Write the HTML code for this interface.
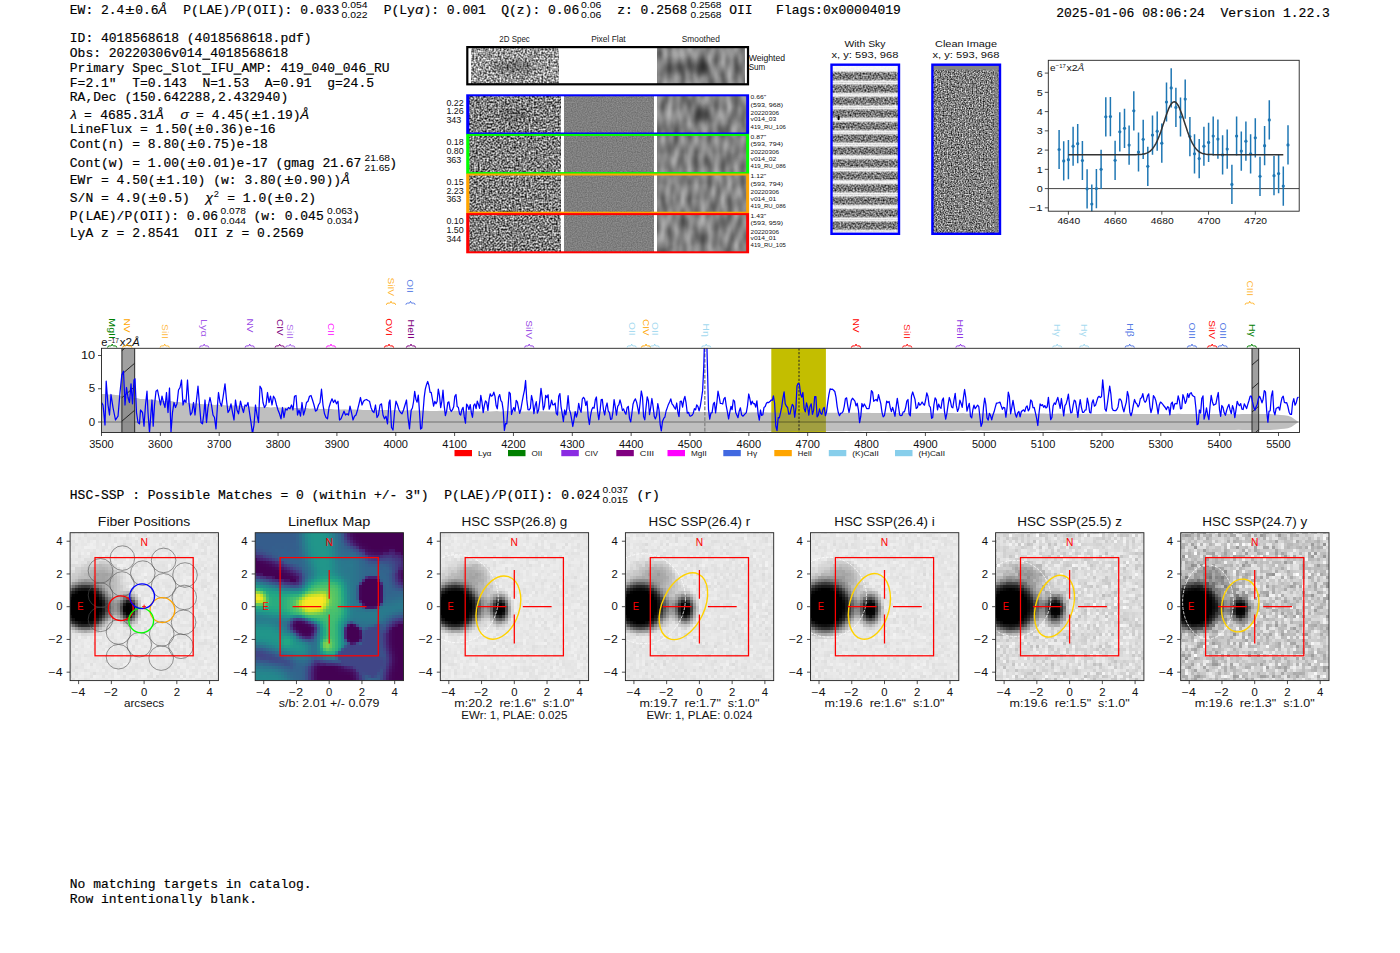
<!DOCTYPE html>
<html><head><meta charset="utf-8"><title>report</title>
<style>html,body{margin:0;padding:0;background:#fff}svg{display:block}text{font-family:"Liberation Sans",sans-serif}.m{font-family:"Liberation Mono",monospace;font-size:13.1px;fill:#000;stroke:#000;stroke-width:0.18px}.i{font-style:italic}</style></head><body>
<svg width="1400" height="953" viewBox="0 0 1400 953">
<rect x="0" y="0" width="1400" height="953" fill="#fff"/>
<defs><filter id="nHi" x="0" y="0" width="1" height="1" color-interpolation-filters="sRGB"><feTurbulence type="fractalNoise" baseFrequency="0.55 0.55" numOctaves="1" seed="3" stitchTiles="noStitch"/><feColorMatrix type="matrix" values="1.65 0 0 0 -0.225 1.65 0 0 0 -0.225 1.65 0 0 0 -0.225 0 0 0 0 1"/><feGaussianBlur stdDeviation="0.25"/></filter><filter id="nHi2" x="0" y="0" width="1" height="1" color-interpolation-filters="sRGB"><feTurbulence type="fractalNoise" baseFrequency="0.55 0.55" numOctaves="1" seed="11" stitchTiles="noStitch"/><feColorMatrix type="matrix" values="1.65 0 0 0 -0.325 1.65 0 0 0 -0.325 1.65 0 0 0 -0.325 0 0 0 0 1"/><feGaussianBlur stdDeviation="0.25"/></filter><filter id="nSm" x="0" y="0" width="1" height="1" color-interpolation-filters="sRGB"><feTurbulence type="fractalNoise" baseFrequency="0.15 0.065" numOctaves="1" seed="7" stitchTiles="noStitch"/><feColorMatrix type="matrix" values="0.62 0 0 0 0.200 0.62 0 0 0 0.200 0.62 0 0 0 0.200 0 0 0 0 1"/></filter><filter id="nFlat" x="0" y="0" width="1" height="1" color-interpolation-filters="sRGB"><feTurbulence type="fractalNoise" baseFrequency="0.8 0.8" numOctaves="1" seed="5" stitchTiles="noStitch"/><feColorMatrix type="matrix" values="0.25 0 0 0 0.372 0.25 0 0 0 0.372 0.25 0 0 0 0.372 0 0 0 0 1"/></filter><filter id="nSky" x="0" y="0" width="1" height="1" color-interpolation-filters="sRGB"><feTurbulence type="fractalNoise" baseFrequency="0.6 0.6" numOctaves="1" seed="21" stitchTiles="noStitch"/><feColorMatrix type="matrix" values="1.25 0 0 0 -0.175 1.25 0 0 0 -0.175 1.25 0 0 0 -0.175 0 0 0 0 1"/><feGaussianBlur stdDeviation="0.3"/></filter><filter id="nClean" x="0" y="0" width="1" height="1" color-interpolation-filters="sRGB"><feTurbulence type="fractalNoise" baseFrequency="0.72 0.72" numOctaves="1" seed="33" stitchTiles="noStitch"/><feColorMatrix type="matrix" values="1.5 0 0 0 -0.250 1.5 0 0 0 -0.250 1.5 0 0 0 -0.250 0 0 0 0 1"/><feGaussianBlur stdDeviation="0.25"/></filter><filter id="b3" x="-0.5" y="-0.5" width="2" height="2"><feGaussianBlur stdDeviation="3"/></filter><linearGradient id="stripe" x1="0" y1="0" x2="0" y2="1"><stop offset="0" stop-color="#fff" stop-opacity="0.95"/><stop offset="0.09" stop-color="#fff" stop-opacity="0.88"/><stop offset="0.19" stop-color="#fff" stop-opacity="0.35"/><stop offset="0.28" stop-color="#fff" stop-opacity="0.04"/><stop offset="0.72" stop-color="#fff" stop-opacity="0.04"/><stop offset="0.81" stop-color="#fff" stop-opacity="0.35"/><stop offset="0.91" stop-color="#fff" stop-opacity="0.88"/><stop offset="1" stop-color="#fff" stop-opacity="0.95"/></linearGradient><clipPath id="skyclip"><rect x="830.3" y="63.5" width="69.9" height="171.5"/></clipPath><clipPath id="fitclip"><rect x="1048.3" y="60.3" width="250.9" height="150.9"/></clipPath><clipPath id="spclip"><rect x="101.5" y="348.3" width="1198.0" height="84.2"/></clipPath><radialGradient id="gBig"><stop offset="0" stop-color="#000" stop-opacity="1"/><stop offset="0.52" stop-color="#000" stop-opacity="1"/><stop offset="0.66" stop-color="#000" stop-opacity="0.78"/><stop offset="0.8" stop-color="#000" stop-opacity="0.32"/><stop offset="0.92" stop-color="#000" stop-opacity="0.08"/><stop offset="1" stop-color="#000" stop-opacity="0"/></radialGradient><radialGradient id="gSm"><stop offset="0" stop-color="#000" stop-opacity="1"/><stop offset="0.3" stop-color="#000" stop-opacity="0.97"/><stop offset="0.5" stop-color="#000" stop-opacity="0.6"/><stop offset="0.7" stop-color="#000" stop-opacity="0.24"/><stop offset="0.87" stop-color="#000" stop-opacity="0.07"/><stop offset="1" stop-color="#000" stop-opacity="0"/></radialGradient><radialGradient id="gHaze"><stop offset="0" stop-color="#000" stop-opacity="0.3"/><stop offset="0.6" stop-color="#000" stop-opacity="0.18"/><stop offset="1" stop-color="#000" stop-opacity="0"/></radialGradient><filter id="nBg1" x="0" y="0" width="1" height="1" color-interpolation-filters="sRGB"><feTurbulence type="fractalNoise" baseFrequency="0.33 0.33" numOctaves="1" seed="41" stitchTiles="noStitch"/><feColorMatrix type="matrix" values="0.22 0 0 0 0.795 0.22 0 0 0 0.795 0.22 0 0 0 0.795 0 0 0 0 1"/></filter><filter id="nBg2" x="0" y="0" width="1" height="1" color-interpolation-filters="sRGB"><feTurbulence type="fractalNoise" baseFrequency="0.36 0.36" numOctaves="2" seed="42" stitchTiles="noStitch"/><feColorMatrix type="matrix" values="0.36 0 0 0 0.685 0.36 0 0 0 0.685 0.36 0 0 0 0.685 0 0 0 0 1"/></filter><filter id="nBg3" x="0" y="0" width="1" height="1" color-interpolation-filters="sRGB"><feTurbulence type="fractalNoise" baseFrequency="0.36 0.36" numOctaves="2" seed="43" stitchTiles="noStitch"/><feColorMatrix type="matrix" values="0.66 0 0 0 0.460 0.66 0 0 0 0.460 0.66 0 0 0 0.460 0 0 0 0 1"/></filter><clipPath id="pclipF"><rect x="70.1" y="532.7" width="148.3" height="147.9"/></clipPath><filter id="mzF" filterUnits="userSpaceOnUse" x="69" y="531" width="153" height="153" color-interpolation-filters="sRGB"><feTurbulence type="fractalNoise" baseFrequency="0.9" numOctaves="1" seed="39" result="t"/><feColorMatrix in="t" type="matrix" values="1 0 0 0 0 1 0 0 0 0 1 0 0 0 0 0 0 0 0 1" result="nz"/><feComposite in="SourceGraphic" in2="nz" operator="arithmetic" k1="0.16" k2="0.920" k3="0" k4="0" result="img"/><feFlood x="69" y="531" width="1" height="1" flood-color="#fff" result="px"/><feComposite in="px" in2="px" operator="over" x="69" y="531" width="3" height="3" result="cell"/><feTile in="cell" result="grid"/><feComposite in="img" in2="grid" operator="in" result="smp"/><feConvolveMatrix in="smp" order="3" kernelMatrix="1 1 1 1 1 1 1 1 1" divisor="1" targetX="2" targetY="2" preserveAlpha="false" edgeMode="none"/></filter><clipPath id="pclipL"><rect x="255.2" y="532.7" width="148.3" height="147.9"/></clipPath><filter id="lfb" x="-0.3" y="-0.3" width="1.6" height="1.6"><feGaussianBlur stdDeviation="30"/></filter><filter id="lfb2" x="-0.3" y="-0.3" width="1.6" height="1.6"><feGaussianBlur stdDeviation="7"/></filter><filter id="lfb3" x="-0.3" y="-0.3" width="1.6" height="1.6"><feGaussianBlur stdDeviation="16"/></filter><filter id="viridis" x="0" y="0" width="1" height="1" color-interpolation-filters="sRGB"><feComponentTransfer><feFuncR type="table" tableValues="0.267 0.282 0.255 0.208 0.165 0.129 0.133 0.267 0.478 0.741 0.992"/><feFuncG type="table" tableValues="0.004 0.141 0.267 0.373 0.471 0.569 0.659 0.749 0.820 0.875 0.906"/><feFuncB type="table" tableValues="0.329 0.459 0.529 0.553 0.557 0.549 0.518 0.439 0.318 0.149 0.145"/></feComponentTransfer></filter><filter id="mzL" filterUnits="userSpaceOnUse" x="254" y="531" width="153" height="153" color-interpolation-filters="sRGB"><feTurbulence type="fractalNoise" baseFrequency="0.9" numOctaves="1" seed="50" result="t"/><feColorMatrix in="t" type="matrix" values="1 0 0 0 0 1 0 0 0 0 1 0 0 0 0 0 0 0 0 1" result="nz"/><feComposite in="SourceGraphic" in2="nz" operator="arithmetic" k1="0.0" k2="1.000" k3="0" k4="0" result="img"/><feFlood x="254" y="531" width="1" height="1" flood-color="#fff" result="px"/><feComposite in="px" in2="px" operator="over" x="254" y="531" width="3" height="3" result="cell"/><feTile in="cell" result="grid"/><feComposite in="img" in2="grid" operator="in" result="smp"/><feConvolveMatrix in="smp" order="3" kernelMatrix="1 1 1 1 1 1 1 1 1" divisor="1" targetX="2" targetY="2" preserveAlpha="false" edgeMode="none"/></filter><clipPath id="pclip2"><rect x="440.3" y="532.7" width="148.3" height="147.9"/></clipPath><filter id="mz2" filterUnits="userSpaceOnUse" x="439" y="531" width="153" height="153" color-interpolation-filters="sRGB"><feTurbulence type="fractalNoise" baseFrequency="0.9" numOctaves="1" seed="42" result="t"/><feColorMatrix in="t" type="matrix" values="1 0 0 0 0 1 0 0 0 0 1 0 0 0 0 0 0 0 0 1" result="nz"/><feComposite in="SourceGraphic" in2="nz" operator="arithmetic" k1="0.16" k2="0.920" k3="0" k4="0" result="img"/><feFlood x="439" y="531" width="1" height="1" flood-color="#fff" result="px"/><feComposite in="px" in2="px" operator="over" x="439" y="531" width="3" height="3" result="cell"/><feTile in="cell" result="grid"/><feComposite in="img" in2="grid" operator="in" result="smp"/><feConvolveMatrix in="smp" order="3" kernelMatrix="1 1 1 1 1 1 1 1 1" divisor="1" targetX="2" targetY="2" preserveAlpha="false" edgeMode="none"/></filter><clipPath id="pclip3"><rect x="625.4" y="532.7" width="148.3" height="147.9"/></clipPath><filter id="mz3" filterUnits="userSpaceOnUse" x="624" y="531" width="153" height="153" color-interpolation-filters="sRGB"><feTurbulence type="fractalNoise" baseFrequency="0.9" numOctaves="1" seed="43" result="t"/><feColorMatrix in="t" type="matrix" values="1 0 0 0 0 1 0 0 0 0 1 0 0 0 0 0 0 0 0 1" result="nz"/><feComposite in="SourceGraphic" in2="nz" operator="arithmetic" k1="0.18" k2="0.910" k3="0" k4="0" result="img"/><feFlood x="624" y="531" width="1" height="1" flood-color="#fff" result="px"/><feComposite in="px" in2="px" operator="over" x="624" y="531" width="3" height="3" result="cell"/><feTile in="cell" result="grid"/><feComposite in="img" in2="grid" operator="in" result="smp"/><feConvolveMatrix in="smp" order="3" kernelMatrix="1 1 1 1 1 1 1 1 1" divisor="1" targetX="2" targetY="2" preserveAlpha="false" edgeMode="none"/></filter><clipPath id="pclip4"><rect x="810.5" y="532.7" width="148.3" height="147.9"/></clipPath><filter id="mz4" filterUnits="userSpaceOnUse" x="809" y="531" width="153" height="153" color-interpolation-filters="sRGB"><feTurbulence type="fractalNoise" baseFrequency="0.9" numOctaves="1" seed="44" result="t"/><feColorMatrix in="t" type="matrix" values="1 0 0 0 0 1 0 0 0 0 1 0 0 0 0 0 0 0 0 1" result="nz"/><feComposite in="SourceGraphic" in2="nz" operator="arithmetic" k1="0.18" k2="0.910" k3="0" k4="0" result="img"/><feFlood x="809" y="531" width="1" height="1" flood-color="#fff" result="px"/><feComposite in="px" in2="px" operator="over" x="809" y="531" width="3" height="3" result="cell"/><feTile in="cell" result="grid"/><feComposite in="img" in2="grid" operator="in" result="smp"/><feConvolveMatrix in="smp" order="3" kernelMatrix="1 1 1 1 1 1 1 1 1" divisor="1" targetX="2" targetY="2" preserveAlpha="false" edgeMode="none"/></filter><clipPath id="pclip5"><rect x="995.6" y="532.7" width="148.3" height="147.9"/></clipPath><filter id="mz5" filterUnits="userSpaceOnUse" x="994" y="531" width="153" height="153" color-interpolation-filters="sRGB"><feTurbulence type="fractalNoise" baseFrequency="0.9" numOctaves="1" seed="45" result="t"/><feColorMatrix in="t" type="matrix" values="1 0 0 0 0 1 0 0 0 0 1 0 0 0 0 0 0 0 0 1" result="nz"/><feComposite in="SourceGraphic" in2="nz" operator="arithmetic" k1="0.5" k2="0.750" k3="0" k4="0" result="img"/><feFlood x="994" y="531" width="1" height="1" flood-color="#fff" result="px"/><feComposite in="px" in2="px" operator="over" x="994" y="531" width="3" height="3" result="cell"/><feTile in="cell" result="grid"/><feComposite in="img" in2="grid" operator="in" result="smp"/><feConvolveMatrix in="smp" order="3" kernelMatrix="1 1 1 1 1 1 1 1 1" divisor="1" targetX="2" targetY="2" preserveAlpha="false" edgeMode="none"/></filter><clipPath id="pclip6"><rect x="1180.7" y="532.7" width="148.3" height="147.9"/></clipPath><filter id="mz6" filterUnits="userSpaceOnUse" x="1179" y="531" width="153" height="153" color-interpolation-filters="sRGB"><feTurbulence type="fractalNoise" baseFrequency="0.9" numOctaves="1" seed="46" result="t"/><feColorMatrix in="t" type="matrix" values="1 0 0 0 0 1 0 0 0 0 1 0 0 0 0 0 0 0 0 1" result="nz"/><feComposite in="SourceGraphic" in2="nz" operator="arithmetic" k1="0.95" k2="0.525" k3="0" k4="0" result="img"/><feFlood x="1179" y="531" width="1" height="1" flood-color="#fff" result="px"/><feComposite in="px" in2="px" operator="over" x="1179" y="531" width="3" height="3" result="cell"/><feTile in="cell" result="grid"/><feComposite in="img" in2="grid" operator="in" result="smp"/><feConvolveMatrix in="smp" order="3" kernelMatrix="1 1 1 1 1 1 1 1 1" divisor="1" targetX="2" targetY="2" preserveAlpha="false" edgeMode="none"/></filter></defs>
<text x="69.80" y="13.80" class="m" textLength="54.60" lengthAdjust="spacingAndGlyphs" xml:space="preserve">EW: 2.4</text>
<text x="125.40" y="13.80" class="m" style="font-family:'Liberation Sans',sans-serif" textLength="8.8" lengthAdjust="spacingAndGlyphs">±</text>
<text x="135.20" y="13.80" class="m" textLength="23.40" lengthAdjust="spacingAndGlyphs" xml:space="preserve">0.6</text>
<text x="158.20" y="13.80" class="m i" style="font-family:'Liberation Sans',sans-serif;font-size:13.4px" textLength="8.6" lengthAdjust="spacingAndGlyphs">Å</text>
<text x="183.20" y="13.80" class="m" textLength="156.00" lengthAdjust="spacingAndGlyphs" xml:space="preserve">P(LAE)/P(OII): 0.033</text>
<text x="341.50" y="8.30" font-size="9.0" text-anchor="start" fill="#000" textLength="26.00" lengthAdjust="spacingAndGlyphs"  xml:space="preserve">0.054</text>
<text x="341.50" y="17.60" font-size="9.0" text-anchor="start" fill="#000" textLength="26.00" lengthAdjust="spacingAndGlyphs"  xml:space="preserve">0.022</text>
<text x="383.70" y="13.80" class="m" textLength="31.20" lengthAdjust="spacingAndGlyphs" xml:space="preserve">P(Ly</text>
<text x="415.20" y="13.80" class="m i" style="font-family:'Liberation Sans',sans-serif;font-size:13.4px" textLength="8.0" lengthAdjust="spacingAndGlyphs">α</text>
<text x="423.40" y="13.80" class="m" textLength="62.40" lengthAdjust="spacingAndGlyphs" xml:space="preserve">): 0.001</text>
<text x="501.20" y="13.80" class="m" textLength="78.00" lengthAdjust="spacingAndGlyphs" xml:space="preserve">Q(z): 0.06</text>
<text x="581.00" y="8.30" font-size="9.0" text-anchor="start" fill="#000" textLength="20.30" lengthAdjust="spacingAndGlyphs"  xml:space="preserve">0.06</text>
<text x="581.00" y="17.60" font-size="9.0" text-anchor="start" fill="#000" textLength="20.30" lengthAdjust="spacingAndGlyphs"  xml:space="preserve">0.06</text>
<text x="617.20" y="13.80" class="m" textLength="70.20" lengthAdjust="spacingAndGlyphs" xml:space="preserve">z: 0.2568</text>
<text x="690.50" y="8.30" font-size="9.0" text-anchor="start" fill="#000" textLength="31.00" lengthAdjust="spacingAndGlyphs"  xml:space="preserve">0.2568</text>
<text x="690.50" y="17.60" font-size="9.0" text-anchor="start" fill="#000" textLength="31.00" lengthAdjust="spacingAndGlyphs"  xml:space="preserve">0.2568</text>
<text x="729.20" y="13.80" class="m" textLength="23.40" lengthAdjust="spacingAndGlyphs" xml:space="preserve">OII</text>
<text x="776.10" y="13.80" class="m" textLength="124.80" lengthAdjust="spacingAndGlyphs" xml:space="preserve">Flags:0x00004019</text>
<text x="1056.20" y="16.60" class="m" textLength="273.70" lengthAdjust="spacingAndGlyphs" xml:space="preserve">2025-01-06 08:06:24  Version 1.22.3</text>
<text x="69.80" y="42.30" class="m" textLength="241.80" lengthAdjust="spacingAndGlyphs" xml:space="preserve">ID: 4018568618 (4018568618.pdf)</text>
<rect x="202.30" y="58.65" width="8.00" height="1.15" fill="#000"/>
<text x="69.80" y="56.90" class="m" textLength="218.40" lengthAdjust="spacingAndGlyphs" xml:space="preserve">Obs: 20220306v014 4018568618</text>
<rect x="163.30" y="73.55" width="8.00" height="1.15" fill="#000"/>
<rect x="202.30" y="73.55" width="8.00" height="1.15" fill="#000"/>
<rect x="233.50" y="73.55" width="8.00" height="1.15" fill="#000"/>
<rect x="303.70" y="73.55" width="8.00" height="1.15" fill="#000"/>
<rect x="334.90" y="73.55" width="8.00" height="1.15" fill="#000"/>
<rect x="366.10" y="73.55" width="8.00" height="1.15" fill="#000"/>
<text x="69.80" y="71.80" class="m" textLength="319.80" lengthAdjust="spacingAndGlyphs" xml:space="preserve">Primary Spec Slot IFU AMP: 419 040 046 RU</text>
<text x="69.80" y="86.70" class="m" textLength="304.20" lengthAdjust="spacingAndGlyphs" xml:space="preserve">F=2.1"  T=0.143  N=1.53  A=0.91  g=24.5</text>
<text x="69.80" y="101.30" class="m" textLength="218.40" lengthAdjust="spacingAndGlyphs" xml:space="preserve">RA,Dec (150.642288,2.432940)</text>
<text x="70.40" y="118.60" class="m i" style="font-family:'Liberation Sans',sans-serif;font-size:13.4px" textLength="6.2" lengthAdjust="spacingAndGlyphs">λ</text>
<text x="84.10" y="118.60" class="m" textLength="7.80" lengthAdjust="spacingAndGlyphs" xml:space="preserve">=</text>
<text x="100.20" y="118.60" class="m" textLength="54.60" lengthAdjust="spacingAndGlyphs" xml:space="preserve">4685.31</text>
<text x="154.90" y="118.60" class="m i" style="font-family:'Liberation Sans',sans-serif;font-size:13.4px" textLength="8.8" lengthAdjust="spacingAndGlyphs">Å</text>
<text x="180.50" y="118.60" class="m i" style="font-family:'Liberation Sans',sans-serif;font-size:13.4px" textLength="8.3" lengthAdjust="spacingAndGlyphs">σ</text>
<text x="196.00" y="118.60" class="m" textLength="7.80" lengthAdjust="spacingAndGlyphs" xml:space="preserve">=</text>
<text x="211.80" y="118.60" class="m" textLength="39.00" lengthAdjust="spacingAndGlyphs" xml:space="preserve">4.45(</text>
<text x="251.80" y="118.60" class="m" style="font-family:'Liberation Sans',sans-serif" textLength="8.8" lengthAdjust="spacingAndGlyphs">±</text>
<text x="261.60" y="118.60" class="m" textLength="39.00" lengthAdjust="spacingAndGlyphs" xml:space="preserve">1.19)</text>
<text x="300.20" y="118.60" class="m i" style="font-family:'Liberation Sans',sans-serif;font-size:13.4px" textLength="8.8" lengthAdjust="spacingAndGlyphs">Å</text>
<text x="69.80" y="133.10" class="m" textLength="124.80" lengthAdjust="spacingAndGlyphs" xml:space="preserve">LineFlux = 1.50(</text>
<text x="195.60" y="133.10" class="m" style="font-family:'Liberation Sans',sans-serif" textLength="8.8" lengthAdjust="spacingAndGlyphs">±</text>
<text x="205.40" y="133.10" class="m" textLength="70.20" lengthAdjust="spacingAndGlyphs" xml:space="preserve">0.36)e-16</text>
<text x="69.80" y="148.00" class="m" textLength="117.00" lengthAdjust="spacingAndGlyphs" xml:space="preserve">Cont(n) = 8.80(</text>
<text x="187.80" y="148.00" class="m" style="font-family:'Liberation Sans',sans-serif" textLength="8.8" lengthAdjust="spacingAndGlyphs">±</text>
<text x="197.60" y="148.00" class="m" textLength="70.20" lengthAdjust="spacingAndGlyphs" xml:space="preserve">0.75)e-18</text>
<text x="69.80" y="166.60" class="m" textLength="117.00" lengthAdjust="spacingAndGlyphs" xml:space="preserve">Cont(w) = 1.00(</text>
<text x="187.80" y="166.60" class="m" style="font-family:'Liberation Sans',sans-serif" textLength="8.8" lengthAdjust="spacingAndGlyphs">±</text>
<text x="197.60" y="166.60" class="m" textLength="163.80" lengthAdjust="spacingAndGlyphs" xml:space="preserve">0.01)e-17 (gmag 21.67</text>
<text x="364.50" y="161.30" font-size="9.0" text-anchor="start" fill="#000" textLength="25.50" lengthAdjust="spacingAndGlyphs"  xml:space="preserve">21.68</text>
<text x="364.50" y="170.60" font-size="9.0" text-anchor="start" fill="#000" textLength="25.50" lengthAdjust="spacingAndGlyphs"  xml:space="preserve">21.65</text>
<text x="389.20" y="166.60" class="m" textLength="7.80" lengthAdjust="spacingAndGlyphs" xml:space="preserve">)</text>
<text x="69.80" y="184.10" class="m" textLength="85.80" lengthAdjust="spacingAndGlyphs" xml:space="preserve">EWr = 4.50(</text>
<text x="156.60" y="184.10" class="m" style="font-family:'Liberation Sans',sans-serif" textLength="8.8" lengthAdjust="spacingAndGlyphs">±</text>
<text x="166.40" y="184.10" class="m" textLength="117.00" lengthAdjust="spacingAndGlyphs" xml:space="preserve">1.10) (w: 3.80(</text>
<text x="284.40" y="184.10" class="m" style="font-family:'Liberation Sans',sans-serif" textLength="8.8" lengthAdjust="spacingAndGlyphs">±</text>
<text x="294.20" y="184.10" class="m" textLength="46.80" lengthAdjust="spacingAndGlyphs" xml:space="preserve">0.90))</text>
<text x="341.20" y="184.10" class="m i" style="font-family:'Liberation Sans',sans-serif;font-size:13.4px" textLength="8.6" lengthAdjust="spacingAndGlyphs">Å</text>
<text x="69.80" y="202.00" class="m" textLength="78.00" lengthAdjust="spacingAndGlyphs" xml:space="preserve">S/N = 4.9(</text>
<text x="148.80" y="202.00" class="m" style="font-family:'Liberation Sans',sans-serif" textLength="8.8" lengthAdjust="spacingAndGlyphs">±</text>
<text x="158.60" y="202.00" class="m" textLength="31.20" lengthAdjust="spacingAndGlyphs" xml:space="preserve">0.5)</text>
<text x="205.50" y="202.00" class="m i" style="font-family:'Liberation Sans',sans-serif;font-size:13.4px" textLength="7.5" lengthAdjust="spacingAndGlyphs">χ</text>
<text x="213.80" y="197.00" font-size="9.0" text-anchor="start" fill="#000" textLength="5.20" lengthAdjust="spacingAndGlyphs"  xml:space="preserve">2</text>
<text x="227.20" y="202.00" class="m" textLength="46.80" lengthAdjust="spacingAndGlyphs" xml:space="preserve">= 1.0(</text>
<text x="275.00" y="202.00" class="m" style="font-family:'Liberation Sans',sans-serif" textLength="8.8" lengthAdjust="spacingAndGlyphs">±</text>
<text x="284.80" y="202.00" class="m" textLength="31.20" lengthAdjust="spacingAndGlyphs" xml:space="preserve">0.2)</text>
<text x="69.80" y="219.60" class="m" textLength="148.20" lengthAdjust="spacingAndGlyphs" xml:space="preserve">P(LAE)/P(OII): 0.06</text>
<text x="220.50" y="214.30" font-size="9.0" text-anchor="start" fill="#000" textLength="25.50" lengthAdjust="spacingAndGlyphs"  xml:space="preserve">0.078</text>
<text x="220.50" y="223.60" font-size="9.0" text-anchor="start" fill="#000" textLength="25.50" lengthAdjust="spacingAndGlyphs"  xml:space="preserve">0.044</text>
<text x="253.50" y="219.60" class="m" textLength="70.20" lengthAdjust="spacingAndGlyphs" xml:space="preserve">(w: 0.045</text>
<text x="327.00" y="214.30" font-size="9.0" text-anchor="start" fill="#000" textLength="25.50" lengthAdjust="spacingAndGlyphs"  xml:space="preserve">0.063</text>
<text x="327.00" y="223.60" font-size="9.0" text-anchor="start" fill="#000" textLength="25.50" lengthAdjust="spacingAndGlyphs"  xml:space="preserve">0.034</text>
<text x="352.20" y="219.60" class="m" textLength="7.80" lengthAdjust="spacingAndGlyphs" xml:space="preserve">)</text>
<text x="69.80" y="236.60" class="m" textLength="234.00" lengthAdjust="spacingAndGlyphs" xml:space="preserve">LyA z = 2.8541  OII z = 0.2569</text>
<text x="69.80" y="498.80" class="m" textLength="530.40" lengthAdjust="spacingAndGlyphs" xml:space="preserve">HSC-SSP : Possible Matches = 0 (within +/- 3")  P(LAE)/P(OII): 0.024</text>
<text x="602.50" y="493.40" font-size="9.0" text-anchor="start" fill="#000" textLength="25.50" lengthAdjust="spacingAndGlyphs"  xml:space="preserve">0.037</text>
<text x="602.50" y="502.80" font-size="9.0" text-anchor="start" fill="#000" textLength="25.50" lengthAdjust="spacingAndGlyphs"  xml:space="preserve">0.015</text>
<text x="636.50" y="498.80" class="m" textLength="23.40" lengthAdjust="spacingAndGlyphs" xml:space="preserve">(r)</text>
<text x="69.80" y="888.20" class="m" textLength="241.80" lengthAdjust="spacingAndGlyphs" xml:space="preserve">No matching targets in catalog.</text>
<text x="69.80" y="903.00" class="m" textLength="187.20" lengthAdjust="spacingAndGlyphs" xml:space="preserve">Row intentionally blank.</text>
<text x="514.60" y="41.80" font-size="8.3" text-anchor="middle" fill="#222" textLength="30.50" lengthAdjust="spacingAndGlyphs"  xml:space="preserve">2D Spec</text>
<text x="608.40" y="41.80" font-size="8.3" text-anchor="middle" fill="#222" textLength="34.50" lengthAdjust="spacingAndGlyphs"  xml:space="preserve">Pixel Flat</text>
<text x="700.80" y="41.80" font-size="8.3" text-anchor="middle" fill="#222" textLength="38.00" lengthAdjust="spacingAndGlyphs"  xml:space="preserve">Smoothed</text>
<rect x="471.4" y="47.5" width="86.9" height="36.4" filter="url(#nHi)"/>
<ellipse cx="514" cy="67" rx="22" ry="6" fill="#000" opacity="0.28" filter="url(#b3)"/>
<rect x="657.8" y="47.5" width="87.1" height="36.4" filter="url(#nSm)"/>
<ellipse cx="701" cy="67" rx="7" ry="8" fill="#000" opacity="0.55" filter="url(#b3)"/>
<ellipse cx="683" cy="66" rx="9" ry="5" fill="#000" opacity="0.3" filter="url(#b3)"/>
<rect x="467.30" y="47.10" width="280.70" height="37.20" fill="none" stroke="#000" stroke-width="2.2"/>
<text x="748.70" y="60.90" font-size="8.5" text-anchor="start" fill="#111" textLength="36.50" lengthAdjust="spacingAndGlyphs"  xml:space="preserve">Weighted</text>
<text x="748.70" y="69.90" font-size="8.5" text-anchor="start" fill="#111" textLength="16.50" lengthAdjust="spacingAndGlyphs"  xml:space="preserve">Sum</text>
<rect x="469.6" y="95.3" width="90.7" height="37.6" filter="url(#nHi2)"/>
<rect x="564.7" y="95.3" width="88.7" height="37.6" fill="#7f7f7f" filter="url(#nFlat)"/>
<rect x="657.3" y="95.3" width="90.2" height="37.6" filter="url(#nSm)"/>
<ellipse cx="701" cy="113.3" rx="6" ry="9" fill="#000" opacity="0.45" filter="url(#b3)"/>
<ellipse cx="514" cy="115.3" rx="14" ry="5" fill="#000" opacity="0.2" filter="url(#b3)"/>
<text x="446.40" y="105.60" font-size="8.6" text-anchor="start" fill="#111" textLength="17.30" lengthAdjust="spacingAndGlyphs"  xml:space="preserve">0.22</text>
<text x="446.40" y="114.30" font-size="8.6" text-anchor="start" fill="#111" textLength="17.30" lengthAdjust="spacingAndGlyphs"  xml:space="preserve">1.26</text>
<text x="446.40" y="123.00" font-size="8.6" text-anchor="start" fill="#111" textLength="14.90" lengthAdjust="spacingAndGlyphs"  xml:space="preserve">343</text>
<text x="750.60" y="99.20" font-size="5.9" text-anchor="start" fill="#111" textLength="15.50" lengthAdjust="spacingAndGlyphs"  xml:space="preserve">0.66"</text>
<text x="750.60" y="106.60" font-size="5.9" text-anchor="start" fill="#111" textLength="32.50" lengthAdjust="spacingAndGlyphs"  xml:space="preserve">(593, 968)</text>
<text x="750.60" y="114.70" font-size="5.9" text-anchor="start" fill="#111" textLength="28.50" lengthAdjust="spacingAndGlyphs"  xml:space="preserve">20220306</text>
<text x="750.60" y="121.40" font-size="5.9" text-anchor="start" fill="#111" textLength="25.50" lengthAdjust="spacingAndGlyphs"  xml:space="preserve">v014_03</text>
<text x="750.60" y="128.60" font-size="5.9" text-anchor="start" fill="#111" textLength="35.20" lengthAdjust="spacingAndGlyphs"  xml:space="preserve">419_RU_106</text>
<rect x="469.6" y="134.9" width="90.7" height="37.6" filter="url(#nHi2)"/>
<rect x="564.7" y="134.9" width="88.7" height="37.6" fill="#7f7f7f" filter="url(#nFlat)"/>
<rect x="657.3" y="134.9" width="90.2" height="37.6" filter="url(#nSm)"/>
<text x="446.40" y="145.20" font-size="8.6" text-anchor="start" fill="#111" textLength="17.30" lengthAdjust="spacingAndGlyphs"  xml:space="preserve">0.18</text>
<text x="446.40" y="153.90" font-size="8.6" text-anchor="start" fill="#111" textLength="17.30" lengthAdjust="spacingAndGlyphs"  xml:space="preserve">0.80</text>
<text x="446.40" y="162.60" font-size="8.6" text-anchor="start" fill="#111" textLength="14.90" lengthAdjust="spacingAndGlyphs"  xml:space="preserve">363</text>
<text x="750.60" y="138.80" font-size="5.9" text-anchor="start" fill="#111" textLength="15.50" lengthAdjust="spacingAndGlyphs"  xml:space="preserve">0.87"</text>
<text x="750.60" y="146.20" font-size="5.9" text-anchor="start" fill="#111" textLength="32.50" lengthAdjust="spacingAndGlyphs"  xml:space="preserve">(593, 794)</text>
<text x="750.60" y="154.30" font-size="5.9" text-anchor="start" fill="#111" textLength="28.50" lengthAdjust="spacingAndGlyphs"  xml:space="preserve">20220306</text>
<text x="750.60" y="161.00" font-size="5.9" text-anchor="start" fill="#111" textLength="25.50" lengthAdjust="spacingAndGlyphs"  xml:space="preserve">v014_02</text>
<text x="750.60" y="168.20" font-size="5.9" text-anchor="start" fill="#111" textLength="35.20" lengthAdjust="spacingAndGlyphs"  xml:space="preserve">419_RU_086</text>
<rect x="469.6" y="174.5" width="90.7" height="37.6" filter="url(#nHi2)"/>
<rect x="564.7" y="174.5" width="88.7" height="37.6" fill="#7f7f7f" filter="url(#nFlat)"/>
<rect x="657.3" y="174.5" width="90.2" height="37.6" filter="url(#nSm)"/>
<text x="446.40" y="184.80" font-size="8.6" text-anchor="start" fill="#111" textLength="17.30" lengthAdjust="spacingAndGlyphs"  xml:space="preserve">0.15</text>
<text x="446.40" y="193.50" font-size="8.6" text-anchor="start" fill="#111" textLength="17.30" lengthAdjust="spacingAndGlyphs"  xml:space="preserve">2.23</text>
<text x="446.40" y="202.20" font-size="8.6" text-anchor="start" fill="#111" textLength="14.90" lengthAdjust="spacingAndGlyphs"  xml:space="preserve">363</text>
<text x="750.60" y="178.40" font-size="5.9" text-anchor="start" fill="#111" textLength="15.50" lengthAdjust="spacingAndGlyphs"  xml:space="preserve">1.12"</text>
<text x="750.60" y="185.80" font-size="5.9" text-anchor="start" fill="#111" textLength="32.50" lengthAdjust="spacingAndGlyphs"  xml:space="preserve">(593, 794)</text>
<text x="750.60" y="193.90" font-size="5.9" text-anchor="start" fill="#111" textLength="28.50" lengthAdjust="spacingAndGlyphs"  xml:space="preserve">20220306</text>
<text x="750.60" y="200.60" font-size="5.9" text-anchor="start" fill="#111" textLength="25.50" lengthAdjust="spacingAndGlyphs"  xml:space="preserve">v014_01</text>
<text x="750.60" y="207.80" font-size="5.9" text-anchor="start" fill="#111" textLength="35.20" lengthAdjust="spacingAndGlyphs"  xml:space="preserve">419_RU_086</text>
<rect x="469.6" y="214.1" width="90.7" height="37.6" filter="url(#nHi2)"/>
<rect x="564.7" y="214.1" width="88.7" height="37.6" fill="#7f7f7f" filter="url(#nFlat)"/>
<rect x="657.3" y="214.1" width="90.2" height="37.6" filter="url(#nSm)"/>
<text x="446.40" y="224.40" font-size="8.6" text-anchor="start" fill="#111" textLength="17.30" lengthAdjust="spacingAndGlyphs"  xml:space="preserve">0.10</text>
<text x="446.40" y="233.10" font-size="8.6" text-anchor="start" fill="#111" textLength="17.30" lengthAdjust="spacingAndGlyphs"  xml:space="preserve">1.50</text>
<text x="446.40" y="241.80" font-size="8.6" text-anchor="start" fill="#111" textLength="14.90" lengthAdjust="spacingAndGlyphs"  xml:space="preserve">344</text>
<text x="750.60" y="218.00" font-size="5.9" text-anchor="start" fill="#111" textLength="15.50" lengthAdjust="spacingAndGlyphs"  xml:space="preserve">1.43"</text>
<text x="750.60" y="225.40" font-size="5.9" text-anchor="start" fill="#111" textLength="32.50" lengthAdjust="spacingAndGlyphs"  xml:space="preserve">(593, 959)</text>
<text x="750.60" y="233.50" font-size="5.9" text-anchor="start" fill="#111" textLength="28.50" lengthAdjust="spacingAndGlyphs"  xml:space="preserve">20220306</text>
<text x="750.60" y="240.20" font-size="5.9" text-anchor="start" fill="#111" textLength="25.50" lengthAdjust="spacingAndGlyphs"  xml:space="preserve">v014_01</text>
<text x="750.60" y="247.40" font-size="5.9" text-anchor="start" fill="#111" textLength="35.20" lengthAdjust="spacingAndGlyphs"  xml:space="preserve">419_RU_105</text>
<rect x="467.20" y="95.30" width="280.90" height="38.20" fill="none" stroke="#0000ff" stroke-width="2.0"/>
<path d="M468.6 95.3V133.9M746.9 95.3V133.9" stroke="#0000ff" stroke-width="1.4"/>
<rect x="467.20" y="134.90" width="280.90" height="38.20" fill="none" stroke="#00ff00" stroke-width="2.0"/>
<path d="M468.6 134.9V173.5M746.9 134.9V173.5" stroke="#00ff00" stroke-width="1.4"/>
<rect x="467.20" y="174.50" width="280.90" height="38.20" fill="none" stroke="#ffa500" stroke-width="2.0"/>
<path d="M468.6 174.5V213.1M746.9 174.5V213.1" stroke="#ffa500" stroke-width="1.4"/>
<rect x="467.20" y="214.10" width="280.90" height="38.20" fill="none" stroke="#ff0000" stroke-width="2.0"/>
<path d="M468.6 214.1V252.7M746.9 214.1V252.7" stroke="#ff0000" stroke-width="1.4"/>
<text x="865.00" y="47.30" font-size="9.9" text-anchor="middle" fill="#111" textLength="41.00" lengthAdjust="spacingAndGlyphs"  xml:space="preserve">With Sky</text>
<text x="865.00" y="57.90" font-size="9.9" text-anchor="middle" fill="#111" textLength="67.00" lengthAdjust="spacingAndGlyphs"  xml:space="preserve">x, y: 593, 968</text>
<text x="966.00" y="47.30" font-size="9.9" text-anchor="middle" fill="#111" textLength="62.00" lengthAdjust="spacingAndGlyphs"  xml:space="preserve">Clean Image</text>
<text x="966.00" y="57.90" font-size="9.9" text-anchor="middle" fill="#111" textLength="67.00" lengthAdjust="spacingAndGlyphs"  xml:space="preserve">x, y: 593, 968</text>
<rect x="831.3" y="64.5" width="67.9" height="169.5" filter="url(#nSky)"/>
<rect x="831.3" y="64.5" width="67.9" height="5.48" fill="#fff" opacity="0.95"/>
<rect x="831.3" y="69.98" width="67.9" height="12.45" fill="url(#stripe)" clip-path="url(#skyclip)"/>
<rect x="831.3" y="82.43" width="67.9" height="12.45" fill="url(#stripe)" clip-path="url(#skyclip)"/>
<rect x="831.3" y="94.88" width="67.9" height="12.45" fill="url(#stripe)" clip-path="url(#skyclip)"/>
<rect x="831.3" y="107.33" width="67.9" height="12.45" fill="url(#stripe)" clip-path="url(#skyclip)"/>
<rect x="831.3" y="119.78" width="67.9" height="12.45" fill="url(#stripe)" clip-path="url(#skyclip)"/>
<rect x="831.3" y="132.23" width="67.9" height="12.45" fill="url(#stripe)" clip-path="url(#skyclip)"/>
<rect x="831.3" y="144.68" width="67.9" height="12.45" fill="url(#stripe)" clip-path="url(#skyclip)"/>
<rect x="831.3" y="157.12" width="67.9" height="12.45" fill="url(#stripe)" clip-path="url(#skyclip)"/>
<rect x="831.3" y="169.57" width="67.9" height="12.45" fill="url(#stripe)" clip-path="url(#skyclip)"/>
<rect x="831.3" y="182.02" width="67.9" height="12.45" fill="url(#stripe)" clip-path="url(#skyclip)"/>
<rect x="831.3" y="194.47" width="67.9" height="12.45" fill="url(#stripe)" clip-path="url(#skyclip)"/>
<rect x="831.3" y="206.92" width="67.9" height="12.45" fill="url(#stripe)" clip-path="url(#skyclip)"/>
<rect x="831.3" y="219.37" width="67.9" height="12.45" fill="url(#stripe)" clip-path="url(#skyclip)"/>
<rect x="831.3" y="231.82" width="67.9" height="12.45" fill="url(#stripe)" clip-path="url(#skyclip)"/>
<ellipse cx="838.6" cy="118" rx="1.1" ry="2.2" fill="#000"/>
<rect x="831.50" y="64.70" width="67.50" height="169.10" fill="none" stroke="#0000ff" stroke-width="2.4"/>
<rect x="932.2" y="64.5" width="68.0" height="169.5" filter="url(#nClean)"/>
<rect x="932.2" y="64.5" width="68.0" height="5.2" fill="#858585"/>
<rect x="994.0" y="64.5" width="5.5" height="169.5" fill="#858585" opacity="0.55"/>
<rect x="932.40" y="64.70" width="67.60" height="169.10" fill="none" stroke="#0000ff" stroke-width="2.4"/>
<g clip-path="url(#fitclip)">
<line x1="1048.3" x2="1299.2" y1="188.60" y2="188.60" stroke="#444" stroke-width="1"/>
<path d="M1059.1 129.9V169.1M1063.7 141.3V180.5M1068.4 140.1V179.3M1073.1 126.7V165.8M1077.7 124.1V163.3M1082.4 140.9V180.1M1087.1 169.2V208.4M1091.8 184.4V223.6M1096.4 169.0V208.2M1101.1 149.8V188.9M1105.8 97.2V136.4M1110.4 97.0V136.2M1115.1 140.7V179.9M1119.8 112.2V151.4M1124.5 108.7V147.9M1129.1 125.5V164.7M1133.8 91.2V130.4M1138.5 132.4V171.6M1143.2 119.7V158.9M1147.8 146.7V185.9M1152.5 115.5V154.7M1157.2 111.6V150.8M1161.8 123.6V162.8M1166.5 82.4V121.6M1171.2 68.3V107.5M1175.9 87.8V127.0M1180.5 97.4V136.6M1185.2 79.5V118.7M1189.9 117.0V156.2M1194.5 134.2V173.4M1199.2 139.0V178.2M1203.9 126.7V165.8M1208.6 122.8V162.0M1213.2 116.4V155.6M1217.9 119.5V158.7M1222.6 135.3V174.5M1227.2 129.5V168.7M1231.9 164.8V204.0M1236.6 116.4V155.6M1241.3 131.5V170.7M1245.9 121.6V160.8M1250.6 134.2V173.4M1255.3 118.2V157.4M1260.0 156.7V195.9M1264.6 126.1V165.3M1269.3 100.3V139.5M1274.0 156.1V195.3M1278.6 154.0V193.2M1283.3 166.5V205.7M1288.0 125.3V164.5" stroke="#1f77b4" stroke-width="1.5" fill="none"/>
<circle cx="1059.1" cy="149.5" r="1.6" fill="#1f77b4"/>
<circle cx="1063.7" cy="160.9" r="1.6" fill="#1f77b4"/>
<circle cx="1068.4" cy="159.7" r="1.6" fill="#1f77b4"/>
<circle cx="1073.1" cy="146.2" r="1.6" fill="#1f77b4"/>
<circle cx="1077.7" cy="143.7" r="1.6" fill="#1f77b4"/>
<circle cx="1082.4" cy="160.5" r="1.6" fill="#1f77b4"/>
<circle cx="1087.1" cy="188.8" r="1.6" fill="#1f77b4"/>
<circle cx="1091.8" cy="204.0" r="1.6" fill="#1f77b4"/>
<circle cx="1096.4" cy="188.6" r="1.6" fill="#1f77b4"/>
<circle cx="1101.1" cy="169.3" r="1.6" fill="#1f77b4"/>
<circle cx="1105.8" cy="116.8" r="1.6" fill="#1f77b4"/>
<circle cx="1110.4" cy="116.6" r="1.6" fill="#1f77b4"/>
<circle cx="1115.1" cy="160.3" r="1.6" fill="#1f77b4"/>
<circle cx="1119.8" cy="131.8" r="1.6" fill="#1f77b4"/>
<circle cx="1124.5" cy="128.3" r="1.6" fill="#1f77b4"/>
<circle cx="1129.1" cy="145.1" r="1.6" fill="#1f77b4"/>
<circle cx="1133.8" cy="110.8" r="1.6" fill="#1f77b4"/>
<circle cx="1138.5" cy="152.0" r="1.6" fill="#1f77b4"/>
<circle cx="1143.2" cy="139.3" r="1.6" fill="#1f77b4"/>
<circle cx="1147.8" cy="166.3" r="1.6" fill="#1f77b4"/>
<circle cx="1152.5" cy="135.1" r="1.6" fill="#1f77b4"/>
<circle cx="1157.2" cy="131.2" r="1.6" fill="#1f77b4"/>
<circle cx="1161.8" cy="143.2" r="1.6" fill="#1f77b4"/>
<circle cx="1166.5" cy="102.0" r="1.6" fill="#1f77b4"/>
<circle cx="1171.2" cy="87.9" r="1.6" fill="#1f77b4"/>
<circle cx="1175.9" cy="107.4" r="1.6" fill="#1f77b4"/>
<circle cx="1180.5" cy="117.0" r="1.6" fill="#1f77b4"/>
<circle cx="1185.2" cy="99.1" r="1.6" fill="#1f77b4"/>
<circle cx="1189.9" cy="136.6" r="1.6" fill="#1f77b4"/>
<circle cx="1194.5" cy="153.8" r="1.6" fill="#1f77b4"/>
<circle cx="1199.2" cy="158.6" r="1.6" fill="#1f77b4"/>
<circle cx="1203.9" cy="146.2" r="1.6" fill="#1f77b4"/>
<circle cx="1208.6" cy="142.4" r="1.6" fill="#1f77b4"/>
<circle cx="1213.2" cy="136.0" r="1.6" fill="#1f77b4"/>
<circle cx="1217.9" cy="139.1" r="1.6" fill="#1f77b4"/>
<circle cx="1222.6" cy="154.9" r="1.6" fill="#1f77b4"/>
<circle cx="1227.2" cy="149.1" r="1.6" fill="#1f77b4"/>
<circle cx="1231.9" cy="184.4" r="1.6" fill="#1f77b4"/>
<circle cx="1236.6" cy="136.0" r="1.6" fill="#1f77b4"/>
<circle cx="1241.3" cy="151.1" r="1.6" fill="#1f77b4"/>
<circle cx="1245.9" cy="141.2" r="1.6" fill="#1f77b4"/>
<circle cx="1250.6" cy="153.8" r="1.6" fill="#1f77b4"/>
<circle cx="1255.3" cy="137.8" r="1.6" fill="#1f77b4"/>
<circle cx="1260.0" cy="176.3" r="1.6" fill="#1f77b4"/>
<circle cx="1264.6" cy="145.7" r="1.6" fill="#1f77b4"/>
<circle cx="1269.3" cy="119.9" r="1.6" fill="#1f77b4"/>
<circle cx="1274.0" cy="175.7" r="1.6" fill="#1f77b4"/>
<circle cx="1278.6" cy="173.6" r="1.6" fill="#1f77b4"/>
<circle cx="1283.3" cy="186.1" r="1.6" fill="#1f77b4"/>
<circle cx="1288.0" cy="144.9" r="1.6" fill="#1f77b4"/>
<polyline points="1068.4,154.7 1069.6,154.7 1070.7,154.7 1071.9,154.7 1073.1,154.7 1074.2,154.7 1075.4,154.7 1076.6,154.7 1077.7,154.7 1078.9,154.7 1080.1,154.7 1081.2,154.7 1082.4,154.7 1083.6,154.7 1084.8,154.7 1085.9,154.7 1087.1,154.7 1088.3,154.7 1089.4,154.7 1090.6,154.7 1091.8,154.7 1092.9,154.7 1094.1,154.7 1095.3,154.7 1096.4,154.7 1097.6,154.7 1098.8,154.7 1099.9,154.7 1101.1,154.7 1102.3,154.7 1103.4,154.7 1104.6,154.7 1105.8,154.7 1106.9,154.7 1108.1,154.7 1109.3,154.7 1110.4,154.7 1111.6,154.7 1112.8,154.7 1114.0,154.7 1115.1,154.7 1116.3,154.7 1117.5,154.7 1118.6,154.7 1119.8,154.7 1121.0,154.7 1122.1,154.7 1123.3,154.7 1124.5,154.7 1125.6,154.7 1126.8,154.7 1128.0,154.7 1129.1,154.7 1130.3,154.7 1131.5,154.7 1132.6,154.7 1133.8,154.7 1135.0,154.7 1136.1,154.7 1137.3,154.6 1138.5,154.6 1139.6,154.5 1140.8,154.4 1142.0,154.3 1143.2,154.1 1144.3,153.9 1145.5,153.6 1146.7,153.1 1147.8,152.6 1149.0,151.9 1150.2,151.1 1151.3,150.0 1152.5,148.8 1153.7,147.2 1154.8,145.4 1156.0,143.3 1157.2,140.9 1158.3,138.2 1159.5,135.3 1160.7,132.1 1161.8,128.7 1163.0,125.1 1164.2,121.5 1165.3,118.0 1166.5,114.5 1167.7,111.3 1168.8,108.4 1170.0,105.9 1171.2,104.0 1172.4,102.6 1173.5,101.9 1174.7,101.8 1175.9,102.4 1177.0,103.7 1178.2,105.5 1179.4,107.9 1180.5,110.7 1181.7,113.8 1182.9,117.3 1184.0,120.8 1185.2,124.4 1186.4,128.0 1187.5,131.4 1188.7,134.7 1189.9,137.7 1191.0,140.4 1192.2,142.9 1193.4,145.0 1194.5,146.9 1195.7,148.5 1196.9,149.8 1198.0,150.9 1199.2,151.8 1200.4,152.5 1201.6,153.1 1202.7,153.5 1203.9,153.8 1205.1,154.1 1206.2,154.3 1207.4,154.4 1208.6,154.5 1209.7,154.6 1210.9,154.6 1212.1,154.6 1213.2,154.7 1214.4,154.7 1215.6,154.7 1216.7,154.7 1217.9,154.7 1219.1,154.7 1220.2,154.7 1221.4,154.7 1222.6,154.7 1223.7,154.7 1224.9,154.7 1226.1,154.7 1227.2,154.7 1228.4,154.7 1229.6,154.7 1230.8,154.7 1231.9,154.7 1233.1,154.7 1234.3,154.7 1235.4,154.7 1236.6,154.7 1237.8,154.7 1238.9,154.7 1240.1,154.7 1241.3,154.7 1242.4,154.7 1243.6,154.7 1244.8,154.7 1245.9,154.7 1247.1,154.7 1248.3,154.7 1249.4,154.7 1250.6,154.7 1251.8,154.7 1252.9,154.7 1254.1,154.7 1255.3,154.7 1256.4,154.7 1257.6,154.7 1258.8,154.7 1260.0,154.7 1261.1,154.7 1262.3,154.7 1263.5,154.7 1264.6,154.7 1265.8,154.7 1267.0,154.7 1268.1,154.7 1269.3,154.7 1270.5,154.7 1271.6,154.7 1272.8,154.7 1274.0,154.7 1275.1,154.7 1276.3,154.7 1277.5,154.7 1278.6,154.7 1279.8,154.7 1281.0,154.7 1282.1,154.7 1283.3,154.7" fill="none" stroke="#333" stroke-width="1.5"/>
</g>
<rect x="1048.3" y="60.3" width="250.9" height="150.9" fill="none" stroke="#222" stroke-width="0.9"/>
<text x="1042.70" y="211.25" font-size="9.6" text-anchor="end" fill="#111" textLength="13.60" lengthAdjust="spacingAndGlyphs"  xml:space="preserve">−1</text>
<text x="1042.70" y="192.00" font-size="9.6" text-anchor="end" fill="#111" textLength="6.00" lengthAdjust="spacingAndGlyphs"  xml:space="preserve">0</text>
<text x="1042.70" y="172.75" font-size="9.6" text-anchor="end" fill="#111" textLength="6.00" lengthAdjust="spacingAndGlyphs"  xml:space="preserve">1</text>
<text x="1042.70" y="153.50" font-size="9.6" text-anchor="end" fill="#111" textLength="6.00" lengthAdjust="spacingAndGlyphs"  xml:space="preserve">2</text>
<text x="1042.70" y="134.25" font-size="9.6" text-anchor="end" fill="#111" textLength="6.00" lengthAdjust="spacingAndGlyphs"  xml:space="preserve">3</text>
<text x="1042.70" y="115.00" font-size="9.6" text-anchor="end" fill="#111" textLength="6.00" lengthAdjust="spacingAndGlyphs"  xml:space="preserve">4</text>
<text x="1042.70" y="95.75" font-size="9.6" text-anchor="end" fill="#111" textLength="6.00" lengthAdjust="spacingAndGlyphs"  xml:space="preserve">5</text>
<text x="1042.70" y="76.50" font-size="9.6" text-anchor="end" fill="#111" textLength="6.00" lengthAdjust="spacingAndGlyphs"  xml:space="preserve">6</text>
<text x="1068.80" y="224.00" font-size="9.6" text-anchor="middle" fill="#111" textLength="22.80" lengthAdjust="spacingAndGlyphs"  xml:space="preserve">4640</text>
<text x="1115.52" y="224.00" font-size="9.6" text-anchor="middle" fill="#111" textLength="22.80" lengthAdjust="spacingAndGlyphs"  xml:space="preserve">4660</text>
<text x="1162.24" y="224.00" font-size="9.6" text-anchor="middle" fill="#111" textLength="22.80" lengthAdjust="spacingAndGlyphs"  xml:space="preserve">4680</text>
<text x="1208.96" y="224.00" font-size="9.6" text-anchor="middle" fill="#111" textLength="22.80" lengthAdjust="spacingAndGlyphs"  xml:space="preserve">4700</text>
<text x="1255.68" y="224.00" font-size="9.6" text-anchor="middle" fill="#111" textLength="22.80" lengthAdjust="spacingAndGlyphs"  xml:space="preserve">4720</text>
<path d="M1044.8 207.85H1048.3M1044.8 188.60H1048.3M1044.8 169.35H1048.3M1044.8 150.10H1048.3M1044.8 130.85H1048.3M1044.8 111.60H1048.3M1044.8 92.35H1048.3M1044.8 73.10H1048.3M1068.40 211.2V214.7M1115.12 211.2V214.7M1161.84 211.2V214.7M1208.56 211.2V214.7M1255.28 211.2V214.7" stroke="#222" stroke-width="0.8" fill="none"/>
<text x="1049.90" y="71.40" font-size="9.2185" text-anchor="start" fill="#111" textLength="5.55" lengthAdjust="spacingAndGlyphs"  xml:space="preserve">e</text>
<text x="1055.72" y="68.09" font-size="6.265000000000001" text-anchor="start" fill="#111" textLength="10.02" lengthAdjust="spacingAndGlyphs"  xml:space="preserve">−17</text>
<text x="1066.46" y="71.40" font-size="9.2185" text-anchor="start" fill="#111" textLength="11.10" lengthAdjust="spacingAndGlyphs"  xml:space="preserve">x2</text>
<text x="1077.64" y="71.40" font-size="9.2185" text-anchor="start" fill="#111" textLength="6.71" lengthAdjust="spacingAndGlyphs" font-style="italic" xml:space="preserve">Å</text>
<g clip-path="url(#spclip)">
<rect x="771.3" y="348.3" width="54.6" height="84.2" fill="#c3be00"/>
<polygon points="101.5,393.9 105.0,394.1 108.6,394.4 112.1,394.6 115.6,395.1 119.2,395.3 122.7,396.7 126.2,396.8 129.7,396.9 133.3,397.7 136.8,398.0 140.3,399.1 143.9,399.0 147.4,399.5 150.9,399.6 154.5,399.8 158.0,400.6 161.5,400.7 165.1,401.0 168.6,400.8 172.1,401.2 175.7,402.0 179.2,401.9 182.7,402.7 186.2,402.6 189.8,403.3 193.3,403.7 196.8,403.3 200.4,404.0 203.9,404.2 207.4,403.9 211.0,404.2 214.5,404.9 218.0,404.6 221.6,405.1 225.1,405.2 228.6,405.7 232.1,405.3 235.7,405.7 239.2,405.6 242.7,405.9 246.3,406.4 249.8,406.5 253.3,406.7 256.9,406.9 260.4,407.0 263.9,407.0 267.5,406.9 271.0,407.4 274.5,407.1 278.1,407.5 281.6,407.6 285.1,407.4 288.6,407.7 292.2,408.0 295.7,408.0 299.2,408.0 302.8,408.5 306.3,408.1 309.8,408.7 313.4,408.4 316.9,408.5 320.4,409.1 324.0,408.8 327.5,409.1 331.0,409.1 334.5,409.5 338.1,409.6 341.6,409.6 345.1,409.3 348.7,409.7 352.2,409.5 355.7,409.5 359.3,409.5 362.8,409.9 366.3,409.9 369.9,409.9 373.4,409.9 376.9,410.2 380.4,410.0 384.0,410.0 387.5,410.1 391.0,410.5 394.6,410.1 398.1,410.6 401.6,410.5 405.2,410.4 408.7,410.3 412.2,410.6 415.8,410.4 419.3,410.6 422.8,410.8 426.4,410.8 429.9,410.9 433.4,411.0 436.9,411.0 440.5,410.8 444.0,410.7 447.5,411.1 451.1,411.2 454.6,410.8 458.1,411.0 461.7,411.1 465.2,411.2 468.7,411.1 472.3,411.0 475.8,411.2 479.3,411.2 482.8,411.4 486.4,411.0 489.9,411.4 493.4,411.2 497.0,411.1 500.5,411.4 504.0,411.2 507.6,411.1 511.1,411.3 514.6,411.2 518.2,411.5 521.7,411.4 525.2,411.5 528.8,411.3 532.3,411.5 535.8,411.4 539.3,411.2 542.9,411.3 546.4,411.3 549.9,411.5 553.5,411.5 557.0,411.4 560.5,411.5 564.1,411.6 567.6,411.6 571.1,411.7 574.7,411.6 578.2,411.3 581.7,411.4 585.2,411.5 588.8,411.6 592.3,411.7 595.8,411.8 599.4,411.7 602.9,411.5 606.4,411.5 610.0,411.7 613.5,411.5 617.0,411.5 620.6,411.6 624.1,411.6 627.6,411.6 631.1,411.7 634.7,411.6 638.2,411.8 641.7,411.8 645.3,411.7 648.8,411.7 652.3,411.9 655.9,411.7 659.4,411.8 662.9,411.8 666.5,412.1 670.0,411.9 673.5,412.0 677.1,411.9 680.6,412.0 684.1,411.9 687.6,412.0 691.2,411.9 694.7,412.1 698.2,412.0 701.8,412.0 705.3,412.0 708.8,412.2 712.4,412.0 715.9,412.0 719.4,412.1 723.0,412.0 726.5,412.1 730.0,412.2 733.5,412.3 737.1,412.4 740.6,412.2 744.1,412.2 747.7,412.4 751.2,412.3 754.7,412.3 758.3,412.3 761.8,412.5 765.3,412.3 768.9,412.4 772.4,412.4 775.9,412.5 779.5,412.4 783.0,412.4 786.5,412.5 790.0,412.4 793.6,412.7 797.1,412.7 800.6,412.6 804.2,412.5 807.7,412.7 811.2,412.5 814.8,412.6 818.3,412.8 821.8,412.7 825.4,412.8 828.9,412.8 832.4,412.8 835.9,412.8 839.5,412.8 843.0,412.8 846.5,412.9 850.1,412.8 853.6,412.8 857.1,412.7 860.7,412.8 864.2,412.9 867.7,412.7 871.3,413.0 874.8,412.9 878.3,413.0 881.9,412.9 885.4,413.0 888.9,412.8 892.4,413.0 896.0,413.1 899.5,412.9 903.0,413.1 906.6,413.0 910.1,413.1 913.6,413.0 917.2,412.9 920.7,413.0 924.2,413.1 927.8,413.0 931.3,413.1 934.8,413.2 938.3,413.3 941.9,413.1 945.4,413.2 948.9,413.0 952.5,413.0 956.0,413.2 959.5,413.3 963.1,413.1 966.6,413.4 970.1,413.4 973.7,413.3 977.2,413.3 980.7,413.5 984.2,413.3 987.8,413.2 991.3,413.4 994.8,413.4 998.4,413.5 1001.9,413.5 1005.4,413.3 1009.0,413.5 1012.5,413.3 1016.0,413.4 1019.6,413.5 1023.1,413.6 1026.6,413.4 1030.2,413.6 1033.7,413.6 1037.2,413.7 1040.7,413.4 1044.3,413.6 1047.8,413.7 1051.3,413.7 1054.9,413.8 1058.4,413.6 1061.9,413.7 1065.5,413.8 1069.0,413.6 1072.5,413.6 1076.1,413.9 1079.6,413.8 1083.1,413.9 1086.6,413.7 1090.2,413.7 1093.7,413.9 1097.2,413.9 1100.8,414.0 1104.3,413.7 1107.8,414.0 1111.4,413.9 1114.9,413.9 1118.4,413.9 1122.0,413.9 1125.5,413.8 1129.0,414.0 1132.6,413.8 1136.1,414.0 1139.6,413.9 1143.1,414.0 1146.7,414.0 1150.2,413.9 1153.7,414.0 1157.3,414.0 1160.8,413.9 1164.3,413.9 1167.9,414.1 1171.4,414.0 1174.9,414.0 1178.5,413.8 1182.0,413.9 1185.5,414.0 1189.0,414.1 1192.6,413.9 1196.1,414.0 1199.6,414.0 1203.2,413.9 1206.7,414.0 1210.2,414.0 1213.8,413.9 1217.3,414.1 1220.8,414.1 1224.4,413.9 1227.9,414.1 1231.4,414.1 1235.0,413.9 1238.5,414.2 1242.0,413.9 1245.5,414.0 1249.1,414.0 1252.6,414.1 1256.1,413.9 1259.7,413.9 1263.2,414.1 1266.7,414.0 1270.3,414.0 1273.8,414.2 1277.3,414.6 1280.9,415.0 1284.4,415.3 1287.9,415.7 1291.4,417.0 1295.0,419.5 1298.5,422.0 1298.5,422.0 1295.0,424.5 1291.4,427.0 1287.9,428.3 1284.4,428.7 1280.9,429.0 1277.3,429.4 1273.8,429.8 1270.3,430.0 1266.7,430.0 1263.2,429.9 1259.7,430.1 1256.1,430.1 1252.6,429.9 1249.1,430.0 1245.5,430.0 1242.0,430.1 1238.5,429.8 1235.0,430.1 1231.4,429.9 1227.9,429.9 1224.4,430.1 1220.8,429.9 1217.3,429.9 1213.8,430.1 1210.2,430.0 1206.7,430.0 1203.2,430.1 1199.6,430.0 1196.1,430.0 1192.6,430.1 1189.0,429.9 1185.5,430.0 1182.0,430.1 1178.5,430.2 1174.9,430.0 1171.4,430.0 1167.9,429.9 1164.3,430.1 1160.8,430.1 1157.3,430.0 1153.7,430.0 1150.2,430.1 1146.7,430.0 1143.1,430.0 1139.6,430.1 1136.1,430.0 1132.6,430.2 1129.0,430.0 1125.5,430.2 1122.0,430.1 1118.4,430.1 1114.9,430.1 1111.4,430.1 1107.8,430.0 1104.3,430.3 1100.8,430.0 1097.2,430.1 1093.7,430.1 1090.2,430.3 1086.6,430.3 1083.1,430.1 1079.6,430.2 1076.1,430.1 1072.5,430.4 1069.0,430.4 1065.5,430.2 1061.9,430.3 1058.4,430.4 1054.9,430.2 1051.3,430.3 1047.8,430.3 1044.3,430.4 1040.7,430.6 1037.2,430.3 1033.7,430.4 1030.2,430.4 1026.6,430.6 1023.1,430.4 1019.6,430.5 1016.0,430.6 1012.5,430.7 1009.0,430.5 1005.4,430.7 1001.9,430.5 998.4,430.5 994.8,430.6 991.3,430.6 987.8,430.8 984.2,430.7 980.7,430.5 977.2,430.7 973.7,430.7 970.1,430.6 966.6,430.6 963.1,430.9 959.5,430.7 956.0,430.8 952.5,431.0 948.9,431.0 945.4,430.8 941.9,430.9 938.3,430.7 934.8,430.8 931.3,430.9 927.8,431.0 924.2,430.9 920.7,431.0 917.2,431.1 913.6,431.0 910.1,430.9 906.6,431.0 903.0,430.9 899.5,431.1 896.0,430.9 892.4,431.0 888.9,431.2 885.4,431.0 881.9,431.1 878.3,431.0 874.8,431.1 871.3,431.0 867.7,431.3 864.2,431.1 860.7,431.2 857.1,431.3 853.6,431.2 850.1,431.2 846.5,431.1 843.0,431.2 839.5,431.2 835.9,431.2 832.4,431.2 828.9,431.2 825.4,431.2 821.8,431.3 818.3,431.2 814.8,431.4 811.2,431.5 807.7,431.3 804.2,431.5 800.6,431.4 797.1,431.3 793.6,431.3 790.0,431.6 786.5,431.5 783.0,431.6 779.5,431.6 775.9,431.5 772.4,431.6 768.9,431.6 765.3,431.7 761.8,431.5 758.3,431.7 754.7,431.7 751.2,431.7 747.7,431.6 744.1,431.8 740.6,431.8 737.1,431.6 733.5,431.7 730.0,431.8 726.5,431.9 723.0,432.0 719.4,431.9 715.9,432.0 712.4,432.0 708.8,431.8 705.3,432.0 701.8,432.0 698.2,432.0 694.7,431.9 691.2,432.1 687.6,432.0 684.1,432.1 680.6,432.0 677.1,432.1 673.5,432.0 670.0,432.1 666.5,431.9 662.9,432.2 659.4,432.2 655.9,432.3 652.3,432.1 648.8,432.3 645.3,432.3 641.7,432.2 638.2,432.2 634.7,432.4 631.1,432.3 627.6,432.4 624.1,432.4 620.6,432.4 617.0,432.5 613.5,432.5 610.0,432.3 606.4,432.5 602.9,432.5 599.4,432.3 595.8,432.2 592.3,432.3 588.8,432.4 585.2,432.5 581.7,432.6 578.2,432.7 574.7,432.4 571.1,432.3 567.6,432.4 564.1,432.4 560.5,432.5 557.0,432.6 553.5,432.5 549.9,432.5 546.4,432.7 542.9,432.7 539.3,432.8 535.8,432.6 532.3,432.5 528.8,432.7 525.2,432.5 521.7,432.6 518.2,432.5 514.6,432.8 511.1,432.7 507.6,432.9 504.0,432.8 500.5,432.6 497.0,432.9 493.4,432.8 489.9,432.6 486.4,433.0 482.8,432.6 479.3,432.8 475.8,432.8 472.3,433.0 468.7,432.9 465.2,432.8 461.7,432.9 458.1,433.0 454.6,433.2 451.1,432.8 447.5,432.9 444.0,433.3 440.5,433.2 436.9,433.0 433.4,433.0 429.9,433.1 426.4,433.2 422.8,433.2 419.3,433.4 415.8,433.6 412.2,433.4 408.7,433.7 405.2,433.6 401.6,433.5 398.1,433.4 394.6,433.9 391.0,433.5 387.5,433.9 384.0,434.0 380.4,434.0 376.9,433.8 373.4,434.1 369.9,434.1 366.3,434.1 362.8,434.1 359.3,434.5 355.7,434.5 352.2,434.5 348.7,434.3 345.1,434.7 341.6,434.4 338.1,434.4 334.5,434.5 331.0,434.9 327.5,434.9 324.0,435.2 320.4,434.9 316.9,435.5 313.4,435.6 309.8,435.3 306.3,435.9 302.8,435.5 299.2,436.0 295.7,436.0 292.2,436.0 288.6,436.3 285.1,436.6 281.6,436.4 278.1,436.5 274.5,436.9 271.0,436.6 267.5,437.1 263.9,437.0 260.4,437.0 256.9,437.1 253.3,437.3 249.8,437.5 246.3,437.6 242.7,438.1 239.2,438.4 235.7,438.3 232.1,438.7 228.6,438.3 225.1,438.8 221.6,438.9 218.0,439.4 214.5,439.1 211.0,439.8 207.4,440.1 203.9,439.8 200.4,440.0 196.8,440.7 193.3,440.3 189.8,440.7 186.2,441.4 182.7,441.3 179.2,442.1 175.7,442.0 172.1,442.8 168.6,443.2 165.1,443.0 161.5,443.3 158.0,443.4 154.5,444.2 150.9,444.4 147.4,444.5 143.9,445.0 140.3,444.9 136.8,446.0 133.3,446.3 129.7,447.1 126.2,447.2 122.7,447.3 119.2,448.7 115.6,448.9 112.1,449.4 108.6,449.6 105.0,449.9 101.5,450.1" fill="#808080" fill-opacity="0.5"/>
<line x1="101.5" x2="1299.5" y1="422.00" y2="422.00" stroke="#000" stroke-opacity="0.42" stroke-width="1.1"/>
<rect x="121.9" y="346.3" width="12.7" height="88.2" fill="#808080" fill-opacity="0.75" stroke="#2a2a2a" stroke-opacity="0.85" stroke-width="1.2"/>
<path d="M121.9 350.7L134.6 339.8M121.9 374.2L134.6 363.3M121.9 397.7L134.6 386.8M121.9 421.2L134.6 410.3" stroke="#1a1a1a" stroke-width="0.9" fill="none"/>
<rect x="1252.0" y="346.3" width="6.6" height="88.2" fill="#808080" fill-opacity="0.75" stroke="#2a2a2a" stroke-opacity="0.85" stroke-width="1.2"/>
<path d="M1252.0 341.5L1258.6 335.8M1252.0 365.0L1258.6 359.3M1252.0 388.5L1258.6 382.8M1252.0 412.0L1258.6 406.3M1252.0 435.5L1258.6 429.8" stroke="#1a1a1a" stroke-width="0.9" fill="none"/>
<line x1="704.8" x2="704.8" y1="348.3" y2="432.5" stroke="#8c8c8c" stroke-width="1.5" stroke-dasharray="3.7 1.6"/>
<line x1="799.0" x2="799.0" y1="348.3" y2="432.5" stroke="#222" stroke-width="1" stroke-dasharray="2.2 1.6"/>
<polyline points="101.5,402.5 103.0,405.0 105.0,425.0 106.2,381.2 108.0,405.0 109.5,415.0 111.0,394.5 113.0,407.5 115.5,420.0 118.0,416.2 120.0,392.5 121.8,375.0 123.5,371.2 125.0,405.0 126.5,387.5 128.0,397.5 129.5,402.5 131.0,383.8 132.5,403.8 134.0,380.0 135.0,378.8 136.5,412.5 138.0,422.5 139.5,423.8 140.5,410.0 142.5,412.5 144.0,426.2 145.5,405.0 147.0,391.2 148.0,412.5 149.5,432.5 151.0,412.5 152.0,400.0 153.2,426.2 154.5,405.0 156.0,391.2 157.5,390.0 159.0,397.5 160.5,405.0 162.0,396.2 163.5,402.5 165.0,407.5 166.5,392.5 168.0,412.5 169.5,388.0 171.0,432.0 172.5,412.5 174.0,402.5 175.5,407.5 177.0,403.8 178.5,390.0 180.0,387.5 181.5,380.0 183.0,405.0 184.5,400.0 186.0,402.5 187.5,380.0 189.0,402.5 190.5,415.0 192.0,412.5 193.5,402.5 195.0,415.0 196.5,400.0 198.0,386.2 199.5,405.0 201.0,422.5 202.5,423.8 204.0,412.5 205.0,400.0 206.5,422.5 208.0,407.5 210.0,397.5 211.5,405.0 213.0,415.0 214.5,417.5 216.0,428.8 217.5,405.0 218.5,392.5 220.0,402.5 221.5,406.2 223.0,397.5 225.0,383.8 226.5,400.0 228.0,412.5 229.5,410.0 231.0,403.8 232.5,412.5 234.0,420.0 235.5,400.0 237.0,410.0 238.5,413.8 240.5,401.2 242.0,407.5 243.5,412.5 245.0,405.0 246.5,406.2 248.0,402.5 249.5,412.5 251.0,422.5 252.5,433.8 254.0,425.0 255.5,405.0 257.0,415.0 258.5,422.5 260.0,386.2 261.5,388.8 263.0,402.5 264.5,407.5 266.0,405.0 267.5,392.5 269.0,402.5 270.5,396.2 272.0,405.0 273.5,396.2 275.0,398.8 276.5,405.0 278.0,410.0 279.5,413.8 281.0,418.8 282.5,407.5 284.0,417.5 285.5,408.8 287.0,410.0 288.5,407.5 290.0,408.8 291.5,405.0 293.0,410.0 294.5,396.2 296.0,395.5 297.5,415.0 299.0,410.0 300.5,416.2 302.0,402.5 303.5,415.0 305.0,410.0 306.5,402.5 308.0,401.2 309.5,396.2 311.0,395.5 312.5,400.0 314.0,405.0 315.5,411.2 317.0,410.0 318.5,405.0 320.0,402.5 321.5,389.2 323.0,405.0 324.5,413.8 326.0,417.5 327.5,418.8 329.0,407.5 330.5,402.5 332.0,398.8 333.5,402.5 335.0,400.0 336.5,403.8 338.0,401.2 339.5,420.0 341.0,418.8 342.5,415.0 344.0,411.2 345.5,415.0 347.0,413.8 348.5,415.0 350.0,406.2 351.5,412.5 353.0,420.0 354.5,416.2 356.0,415.0 357.5,410.0 359.0,403.8 360.5,397.5 362.0,405.0 363.5,401.2 365.0,400.0 366.5,399.5 368.0,400.5 369.5,401.2 371.0,407.5 372.5,411.2 374.0,412.5 375.5,405.0 377.0,417.5 378.5,415.0 380.0,405.0 381.5,403.8 383.0,415.0 384.5,418.8 386.0,416.2 387.5,423.8 389.0,402.5 390.0,400.0 391.5,427.5 393.0,430.0 394.5,412.5 396.0,401.2 397.5,405.0 399.0,410.0 400.5,412.5 402.0,413.8 403.5,410.0 405.0,405.0 406.5,400.0 408.0,417.5 409.5,428.8 410.0,422.4 411.2,410.1 412.4,408.0 413.5,402.0 414.7,391.3 415.9,399.2 417.1,402.2 418.3,395.2 419.4,410.4 420.6,429.1 421.8,428.1 423.0,412.7 424.2,397.4 425.3,389.1 426.5,384.7 427.7,381.5 428.9,385.4 430.1,392.3 431.2,392.3 432.4,399.0 433.6,406.1 434.8,401.4 436.0,403.8 437.1,401.5 438.3,389.1 439.5,395.6 440.7,407.7 441.9,401.1 443.0,390.2 444.2,405.9 445.4,415.7 446.6,411.2 447.8,402.6 448.9,401.9 450.1,409.4 451.3,411.5 452.5,409.7 453.7,406.8 454.8,396.3 456.0,394.5 457.2,406.6 458.4,407.5 459.6,414.0 460.7,415.0 461.9,409.6 463.1,407.3 464.3,416.9 465.5,423.2 466.6,404.1 467.8,405.9 469.0,409.7 470.2,404.6 471.4,412.9 472.5,417.3 473.7,405.4 474.9,403.9 476.1,408.6 477.3,401.1 478.4,404.1 479.6,408.4 480.8,395.4 482.0,402.2 483.2,412.6 484.3,405.7 485.5,400.9 486.7,402.4 487.9,410.4 489.1,399.4 490.2,393.8 491.4,396.2 492.6,395.5 493.8,392.2 495.0,396.4 496.1,405.5 497.3,408.8 498.5,397.3 499.7,394.6 500.9,400.6 502.0,402.1 503.2,410.2 504.4,430.5 505.6,423.5 506.8,423.8 507.9,408.7 509.1,392.1 510.3,393.7 511.5,414.5 512.7,410.2 513.8,407.6 515.0,411.2 516.2,400.4 517.4,402.2 518.6,408.4 519.7,413.3 520.9,409.1 522.1,402.0 523.3,395.6 524.5,390.1 525.6,380.5 526.8,399.9 528.0,409.6 529.2,409.9 530.4,408.1 531.5,395.5 532.7,400.8 533.9,413.6 535.1,405.9 536.3,401.6 537.4,413.1 538.6,410.1 539.8,400.8 541.0,388.4 542.2,397.6 543.3,409.8 544.5,406.2 545.7,395.3 546.9,397.6 548.1,394.8 549.2,409.2 550.4,405.8 551.6,400.1 552.8,404.8 554.0,404.7 555.1,403.1 556.3,413.4 557.5,415.0 558.7,396.3 559.9,393.6 561.0,406.3 562.2,413.6 563.4,421.5 564.6,410.0 565.8,414.8 566.9,408.1 568.1,395.7 569.3,409.4 570.5,413.0 571.7,419.6 572.8,426.5 574.0,419.6 575.2,411.6 576.4,417.0 577.6,412.5 578.7,403.3 579.9,409.4 581.1,412.3 582.3,399.0 583.5,397.3 584.6,398.9 585.8,405.3 587.0,401.1 588.2,416.6 589.4,424.5 590.5,415.8 591.7,409.8 592.9,407.4 594.1,408.2 595.3,399.8 596.4,397.0 597.6,411.6 598.8,419.7 600.0,411.2 601.2,399.6 602.3,399.4 603.5,409.8 604.7,415.0 605.9,407.1 607.1,403.0 608.2,410.9 609.4,412.6 610.6,419.3 611.8,419.0 613.0,411.6 614.1,399.6 615.3,407.0 616.5,415.2 617.7,406.4 618.9,404.6 620.0,399.8 621.2,404.4 622.4,410.5 623.6,408.9 624.8,412.4 625.9,414.3 627.1,407.6 628.3,406.3 629.5,418.4 630.7,421.9 631.8,414.0 633.0,404.3 634.2,400.8 635.4,398.9 636.6,402.1 637.7,407.7 638.9,413.9 640.1,403.0 641.3,391.0 642.5,396.8 643.6,416.6 644.8,419.8 646.0,407.9 647.2,396.8 648.4,400.7 649.5,414.6 650.7,407.3 651.9,398.5 653.1,406.7 654.3,416.5 655.4,418.9 656.6,415.4 657.8,403.6 659.0,409.9 660.2,424.6 661.3,430.9 662.5,421.5 663.7,418.4 664.9,417.0 666.1,411.0 667.2,407.9 668.4,404.4 669.6,401.9 670.8,398.9 672.0,403.8 673.1,405.1 674.3,407.4 675.5,409.2 676.7,403.0 677.9,412.5 679.0,416.6 680.2,401.4 681.4,401.1 682.6,407.1 683.8,399.8 684.9,396.4 686.1,403.2 687.3,413.2 688.5,412.3 689.7,415.9 690.8,416.1 692.0,415.3 693.2,413.5 694.4,408.6 695.6,409.9 696.7,404.9 697.9,406.3 699.1,410.8 700.3,406.1 701.5,398.5 702.6,390.9 703.8,366.4 705.0,319.4 706.2,320.0 707.4,365.7 708.5,409.3 709.7,419.2 710.9,413.1 712.1,412.6 713.3,404.1 714.4,402.3 715.6,412.9 716.8,403.2 718.0,391.2 719.2,396.8 720.3,403.3 721.5,403.5 722.7,404.0 723.9,398.9 725.1,397.5 726.2,405.6 727.4,411.8 728.6,419.0 729.8,412.2 731.0,406.3 732.1,409.7 733.3,400.0 734.5,401.1 735.7,412.6 736.9,415.2 738.0,417.7 739.2,411.2 740.4,407.8 741.6,414.8 742.8,416.2 743.9,415.2 745.1,413.9 746.3,412.6 747.5,405.8 748.7,394.0 749.8,398.5 751.0,404.7 752.2,401.2 753.4,403.7 754.6,403.7 755.7,407.1 756.9,400.9 758.1,413.6 759.3,420.1 760.5,410.0 761.6,415.4 762.8,414.8 764.0,407.4 765.2,406.5 766.4,403.2 767.5,402.3 768.7,402.6 769.9,401.6 771.1,400.0 772.3,400.4 773.4,395.8 774.6,403.0 775.8,426.2 777.0,430.6 778.2,417.7 779.3,417.8 780.5,412.9 781.7,407.2 782.9,398.4 784.1,391.9 785.2,403.8 786.4,406.3 787.6,407.5 788.8,414.2 790.0,414.0 791.1,408.9 792.3,404.4 793.5,406.2 794.7,417.1 795.9,408.2 797.0,386.0 798.2,383.3 799.4,384.4 800.6,394.1 801.8,397.2 802.9,392.5 804.1,408.4 805.3,411.8 806.5,402.8 807.7,407.3 808.8,415.1 810.0,406.4 811.2,403.8 812.4,414.3 813.6,410.5 814.7,396.6 815.9,396.7 817.1,416.8 818.3,415.2 819.5,408.9 820.6,413.1 821.8,414.4 823.0,409.4 824.2,407.3 825.4,415.7 826.5,412.1 827.7,402.7 828.9,394.6 830.1,388.9 831.3,389.3 832.4,389.1 833.6,390.3 834.8,391.5 836.0,397.1 837.2,406.8 838.3,412.6 839.5,415.7 840.7,413.3 841.9,413.0 843.1,411.3 844.2,406.6 845.4,398.7 846.6,397.8 847.8,406.1 849.0,412.5 850.1,407.2 851.3,400.4 852.5,398.2 853.7,399.7 854.9,401.2 856.0,405.9 857.2,403.2 858.4,409.8 859.6,422.6 860.8,416.2 861.9,403.5 863.1,406.8 864.3,404.0 865.5,406.0 866.7,408.6 867.8,408.7 869.0,408.6 870.2,402.1 871.4,390.6 872.6,392.1 873.7,401.3 874.9,400.3 876.1,399.4 877.3,401.1 878.5,394.7 879.6,399.0 880.8,403.6 882.0,412.3 883.2,416.8 884.4,415.6 885.5,409.1 886.7,401.1 887.9,402.5 889.1,401.5 890.3,407.9 891.4,411.7 892.6,407.4 893.8,411.3 895.0,416.3 896.2,406.1 897.3,398.3 898.5,406.5 899.7,414.9 900.9,415.7 902.1,415.1 903.2,411.9 904.4,411.9 905.6,407.8 906.8,401.2 908.0,399.5 909.1,413.9 910.3,415.9 911.5,395.9 912.7,392.0 913.9,396.0 915.0,399.4 916.2,408.5 917.4,407.6 918.6,402.6 919.8,405.2 920.9,404.1 922.1,402.0 923.3,404.0 924.5,405.2 925.7,399.5 926.8,392.9 928.0,396.5 929.2,405.7 930.4,407.3 931.6,418.3 932.7,417.4 933.9,404.9 935.1,397.8 936.3,399.8 937.5,409.9 938.6,404.1 939.8,407.1 941.0,408.3 942.2,400.4 943.4,398.0 944.5,411.7 945.7,419.2 946.9,413.2 948.1,404.6 949.3,397.5 950.4,400.9 951.6,407.0 952.8,407.8 954.0,400.0 955.2,393.4 956.3,405.4 957.5,411.4 958.7,408.6 959.9,400.2 961.1,403.5 962.2,407.3 963.4,397.8 964.6,389.5 965.8,397.7 967.0,411.2 968.1,407.0 969.3,403.3 970.5,416.4 971.7,417.9 972.9,409.5 974.0,405.2 975.2,408.7 976.4,406.8 977.6,405.2 978.8,406.7 979.9,417.0 981.1,426.4 982.3,422.9 983.5,407.2 984.7,398.1 985.8,404.0 987.0,417.9 988.2,420.1 989.4,413.3 990.6,415.8 991.7,419.8 992.9,415.0 994.1,411.8 995.3,407.1 996.5,403.0 997.6,403.0 998.8,402.7 1000.0,402.2 1001.2,405.9 1002.4,409.3 1003.5,407.4 1004.7,407.8 1005.9,417.1 1007.1,407.3 1008.3,392.1 1009.4,396.5 1010.6,413.8 1011.8,407.3 1013.0,400.4 1014.2,407.6 1015.3,414.1 1016.5,417.2 1017.7,412.9 1018.9,411.5 1020.1,416.8 1021.2,412.0 1022.4,410.5 1023.6,409.9 1024.8,411.7 1026.0,407.2 1027.1,406.0 1028.3,410.9 1029.5,408.9 1030.7,400.0 1031.9,401.4 1033.0,407.7 1034.2,407.5 1035.4,412.6 1036.6,418.2 1037.8,425.5 1038.9,414.2 1040.1,404.0 1041.3,405.5 1042.5,404.7 1043.7,407.3 1044.8,405.6 1046.0,408.0 1047.2,406.8 1048.4,397.3 1049.6,409.1 1050.7,419.6 1051.9,417.5 1053.1,406.0 1054.3,402.9 1055.5,404.3 1056.6,400.8 1057.8,397.4 1059.0,402.9 1060.2,408.3 1061.4,398.5 1062.5,406.5 1063.7,415.9 1064.9,405.7 1066.1,403.8 1067.3,399.5 1068.4,394.2 1069.6,405.6 1070.8,412.9 1072.0,412.5 1073.2,405.2 1074.3,400.2 1075.5,401.3 1076.7,408.6 1077.9,417.3 1079.1,406.4 1080.2,399.6 1081.4,407.3 1082.6,412.4 1083.8,412.3 1085.0,410.2 1086.1,409.8 1087.3,398.2 1088.5,403.6 1089.7,412.5 1090.9,413.0 1092.0,402.9 1093.2,399.8 1094.4,406.2 1095.6,405.1 1096.8,401.1 1097.9,397.5 1099.1,396.3 1100.3,397.6 1101.5,396.8 1102.7,379.8 1103.8,391.4 1105.0,409.0 1106.2,411.2 1107.4,403.3 1108.6,394.2 1109.7,386.1 1110.9,394.2 1112.1,408.1 1113.3,410.5 1114.5,410.6 1115.6,410.7 1116.8,409.5 1118.0,406.9 1119.2,399.1 1120.4,399.2 1121.5,401.3 1122.7,407.8 1123.9,411.9 1125.1,406.6 1126.3,402.1 1127.4,391.5 1128.6,396.2 1129.8,412.3 1131.0,415.7 1132.2,411.7 1133.3,405.4 1134.5,399.5 1135.7,402.8 1136.9,403.9 1138.1,406.9 1139.2,404.7 1140.4,398.5 1141.6,397.8 1142.8,393.7 1144.0,400.2 1145.1,402.3 1146.3,400.6 1147.5,395.9 1148.7,393.9 1149.9,406.3 1151.0,412.6 1152.2,408.2 1153.4,395.7 1154.6,397.3 1155.8,400.6 1156.9,406.1 1158.1,413.8 1159.3,404.9 1160.5,402.1 1161.7,403.1 1162.8,404.4 1164.0,406.0 1165.2,407.5 1166.4,409.6 1167.6,406.7 1168.7,407.2 1169.9,414.8 1171.1,403.9 1172.3,402.1 1173.5,409.1 1174.6,404.1 1175.8,403.5 1177.0,403.8 1178.2,395.9 1179.4,400.6 1180.5,408.9 1181.7,408.4 1182.9,394.7 1184.1,398.0 1185.3,403.4 1186.4,401.0 1187.6,393.6 1188.8,397.5 1190.0,393.5 1191.2,392.7 1192.3,395.2 1193.5,396.3 1194.7,396.9 1195.9,408.2 1197.1,424.6 1198.2,424.0 1199.4,410.0 1200.6,413.1 1201.8,398.4 1203.0,395.9 1204.1,419.1 1205.3,414.6 1206.5,407.9 1207.7,415.1 1208.9,419.7 1210.0,406.5 1211.2,395.3 1212.4,401.7 1213.6,405.2 1214.8,404.5 1215.9,403.9 1217.1,397.7 1218.3,392.5 1219.5,409.3 1220.7,416.3 1221.8,405.5 1223.0,407.4 1224.2,412.8 1225.4,415.3 1226.6,410.5 1227.7,407.1 1228.9,404.4 1230.1,409.9 1231.3,413.7 1232.5,405.7 1233.6,408.9 1234.8,417.6 1236.0,409.8 1237.2,401.3 1238.4,404.3 1239.5,405.7 1240.7,403.6 1241.9,409.1 1243.1,409.5 1244.3,403.8 1245.4,406.1 1246.6,408.6 1247.8,404.4 1249.0,400.5 1250.2,396.1 1251.3,396.2 1252.5,401.9 1253.7,407.0 1254.9,410.2 1256.1,406.7 1257.2,404.5 1258.4,398.6 1259.6,396.3 1260.8,399.0 1262.0,402.8 1263.1,399.2 1264.3,390.6 1265.5,392.0 1266.7,411.1 1267.9,422.1 1269.0,411.4 1270.2,410.7 1271.4,395.8 1272.6,390.8 1273.8,411.3 1274.9,414.8 1276.1,408.6 1277.3,407.8 1278.5,407.1 1279.7,410.1 1280.8,403.3 1282.0,397.9 1283.2,396.2 1284.4,402.4 1285.6,402.8 1286.7,402.6 1287.9,406.5 1289.1,412.2 1290.3,414.4 1291.5,414.4 1292.6,402.8 1293.8,398.6 1295.0,405.1 1296.2,402.9 1297.4,398.0 1298.5,397.1" fill="none" stroke="#0000ff" stroke-width="1.25" stroke-linejoin="round"/>
</g>
<rect x="101.5" y="348.3" width="1198.0" height="84.2" fill="none" stroke="#222" stroke-width="0.9"/>
<text x="95.20" y="425.60" font-size="10.2" text-anchor="end" fill="#111" textLength="6.40" lengthAdjust="spacingAndGlyphs"  xml:space="preserve">0</text>
<text x="95.20" y="392.35" font-size="10.2" text-anchor="end" fill="#111" textLength="6.40" lengthAdjust="spacingAndGlyphs"  xml:space="preserve">5</text>
<text x="95.20" y="359.10" font-size="10.2" text-anchor="end" fill="#111" textLength="14.20" lengthAdjust="spacingAndGlyphs"  xml:space="preserve">10</text>
<text x="101.50" y="447.60" font-size="10" text-anchor="middle" fill="#111" textLength="24.50" lengthAdjust="spacingAndGlyphs"  xml:space="preserve">3500</text>
<text x="160.35" y="447.60" font-size="10" text-anchor="middle" fill="#111" textLength="24.50" lengthAdjust="spacingAndGlyphs"  xml:space="preserve">3600</text>
<text x="219.20" y="447.60" font-size="10" text-anchor="middle" fill="#111" textLength="24.50" lengthAdjust="spacingAndGlyphs"  xml:space="preserve">3700</text>
<text x="278.05" y="447.60" font-size="10" text-anchor="middle" fill="#111" textLength="24.50" lengthAdjust="spacingAndGlyphs"  xml:space="preserve">3800</text>
<text x="336.90" y="447.60" font-size="10" text-anchor="middle" fill="#111" textLength="24.50" lengthAdjust="spacingAndGlyphs"  xml:space="preserve">3900</text>
<text x="395.75" y="447.60" font-size="10" text-anchor="middle" fill="#111" textLength="24.50" lengthAdjust="spacingAndGlyphs"  xml:space="preserve">4000</text>
<text x="454.60" y="447.60" font-size="10" text-anchor="middle" fill="#111" textLength="24.50" lengthAdjust="spacingAndGlyphs"  xml:space="preserve">4100</text>
<text x="513.45" y="447.60" font-size="10" text-anchor="middle" fill="#111" textLength="24.50" lengthAdjust="spacingAndGlyphs"  xml:space="preserve">4200</text>
<text x="572.30" y="447.60" font-size="10" text-anchor="middle" fill="#111" textLength="24.50" lengthAdjust="spacingAndGlyphs"  xml:space="preserve">4300</text>
<text x="631.15" y="447.60" font-size="10" text-anchor="middle" fill="#111" textLength="24.50" lengthAdjust="spacingAndGlyphs"  xml:space="preserve">4400</text>
<text x="690.00" y="447.60" font-size="10" text-anchor="middle" fill="#111" textLength="24.50" lengthAdjust="spacingAndGlyphs"  xml:space="preserve">4500</text>
<text x="748.85" y="447.60" font-size="10" text-anchor="middle" fill="#111" textLength="24.50" lengthAdjust="spacingAndGlyphs"  xml:space="preserve">4600</text>
<text x="807.70" y="447.60" font-size="10" text-anchor="middle" fill="#111" textLength="24.50" lengthAdjust="spacingAndGlyphs"  xml:space="preserve">4700</text>
<text x="866.55" y="447.60" font-size="10" text-anchor="middle" fill="#111" textLength="24.50" lengthAdjust="spacingAndGlyphs"  xml:space="preserve">4800</text>
<text x="925.40" y="447.60" font-size="10" text-anchor="middle" fill="#111" textLength="24.50" lengthAdjust="spacingAndGlyphs"  xml:space="preserve">4900</text>
<text x="984.25" y="447.60" font-size="10" text-anchor="middle" fill="#111" textLength="24.50" lengthAdjust="spacingAndGlyphs"  xml:space="preserve">5000</text>
<text x="1043.10" y="447.60" font-size="10" text-anchor="middle" fill="#111" textLength="24.50" lengthAdjust="spacingAndGlyphs"  xml:space="preserve">5100</text>
<text x="1101.95" y="447.60" font-size="10" text-anchor="middle" fill="#111" textLength="24.50" lengthAdjust="spacingAndGlyphs"  xml:space="preserve">5200</text>
<text x="1160.80" y="447.60" font-size="10" text-anchor="middle" fill="#111" textLength="24.50" lengthAdjust="spacingAndGlyphs"  xml:space="preserve">5300</text>
<text x="1219.65" y="447.60" font-size="10" text-anchor="middle" fill="#111" textLength="24.50" lengthAdjust="spacingAndGlyphs"  xml:space="preserve">5400</text>
<text x="1278.50" y="447.60" font-size="10" text-anchor="middle" fill="#111" textLength="24.50" lengthAdjust="spacingAndGlyphs"  xml:space="preserve">5500</text>
<path d="M98.0 422.00H101.5M98.0 388.75H101.5M98.0 355.50H101.5M101.50 432.5V436.0M160.35 432.5V436.0M219.20 432.5V436.0M278.05 432.5V436.0M336.90 432.5V436.0M395.75 432.5V436.0M454.60 432.5V436.0M513.45 432.5V436.0M572.30 432.5V436.0M631.15 432.5V436.0M690.00 432.5V436.0M748.85 432.5V436.0M807.70 432.5V436.0M866.55 432.5V436.0M925.40 432.5V436.0M984.25 432.5V436.0M1043.10 432.5V436.0M1101.95 432.5V436.0M1160.80 432.5V436.0M1219.65 432.5V436.0M1278.50 432.5V436.0" stroke="#222" stroke-width="0.8" fill="none"/>
<rect x="100" y="336" width="42" height="11.5" fill="#fff" fill-opacity="0.0"/>
<text x="101.20" y="346.20" font-size="10.3" text-anchor="start" fill="#111" textLength="6.20" lengthAdjust="spacingAndGlyphs"  xml:space="preserve">e</text>
<text x="107.70" y="342.50" font-size="7.0" text-anchor="start" fill="#111" textLength="11.20" lengthAdjust="spacingAndGlyphs"  xml:space="preserve">−17</text>
<text x="119.70" y="346.20" font-size="10.3" text-anchor="start" fill="#111" textLength="12.40" lengthAdjust="spacingAndGlyphs"  xml:space="preserve">x2</text>
<text x="132.20" y="346.20" font-size="10.3" text-anchor="start" fill="#111" textLength="7.50" lengthAdjust="spacingAndGlyphs" font-style="italic" xml:space="preserve">Å</text>
<rect x="454.5" y="450.0" width="17.5" height="6.2" fill="#ff0000"/>
<text x="478.00" y="456.00" font-size="8.0" text-anchor="start" fill="#111" textLength="13.50" lengthAdjust="spacingAndGlyphs"  xml:space="preserve">Lyα</text>
<rect x="508.0" y="450.0" width="17.5" height="6.2" fill="#008000"/>
<text x="531.50" y="456.00" font-size="8.0" text-anchor="start" fill="#111" textLength="10.80" lengthAdjust="spacingAndGlyphs"  xml:space="preserve">OII</text>
<rect x="561.3" y="450.0" width="17.5" height="6.2" fill="#8a2be2"/>
<text x="584.80" y="456.00" font-size="8.0" text-anchor="start" fill="#111" textLength="13.20" lengthAdjust="spacingAndGlyphs"  xml:space="preserve">CIV</text>
<rect x="616.3" y="450.0" width="17.5" height="6.2" fill="#800080"/>
<text x="639.80" y="456.00" font-size="8.0" text-anchor="start" fill="#111" textLength="14.30" lengthAdjust="spacingAndGlyphs"  xml:space="preserve">CIII</text>
<rect x="667.5" y="450.0" width="17.5" height="6.2" fill="#ff00ff"/>
<text x="691.00" y="456.00" font-size="8.0" text-anchor="start" fill="#111" textLength="15.80" lengthAdjust="spacingAndGlyphs"  xml:space="preserve">MgII</text>
<rect x="723.3" y="450.0" width="17.5" height="6.2" fill="#4169e1"/>
<text x="746.80" y="456.00" font-size="8.0" text-anchor="start" fill="#111" textLength="10.30" lengthAdjust="spacingAndGlyphs"  xml:space="preserve">Hγ</text>
<rect x="774.3" y="450.0" width="17.5" height="6.2" fill="#ffa500"/>
<text x="797.80" y="456.00" font-size="8.0" text-anchor="start" fill="#111" textLength="14.20" lengthAdjust="spacingAndGlyphs"  xml:space="preserve">HeII</text>
<rect x="828.8" y="450.0" width="17.5" height="6.2" fill="#87ceeb"/>
<text x="852.30" y="456.00" font-size="8.0" text-anchor="start" fill="#111" textLength="26.50" lengthAdjust="spacingAndGlyphs"  xml:space="preserve">(K)CaII</text>
<rect x="895.0" y="450.0" width="17.5" height="6.2" fill="#87ceeb"/>
<text x="918.50" y="456.00" font-size="8.0" text-anchor="start" fill="#111" textLength="26.50" lengthAdjust="spacingAndGlyphs"  xml:space="preserve">(H)CaII</text>
<g transform="translate(109.1,348.2) rotate(90)" fill="#008000" fill-opacity="1"><text x="-9.3" y="0" font-size="9.9" text-anchor="end" textLength="20.6" lengthAdjust="spacingAndGlyphs">MgII</text></g>
<path d="M107.6 347.6q0.1 -1.7 1.6 -1.7h1.5q1.3 0 1.5 -1.8q0.2 1.8 1.5 1.8h1.5q1.5 0 1.6 1.7" fill="none" stroke="#008000" stroke-opacity="1" stroke-width="1.0"/>
<g transform="translate(124.1,348.2) rotate(90)" fill="#ffa500" fill-opacity="1"><text x="-15.6" y="0" font-size="9.9" text-anchor="end" textLength="14.2" lengthAdjust="spacingAndGlyphs">NV</text></g>
<path d="M122.6 347.6q0.1 -1.7 1.6 -1.7h1.5q1.3 0 1.5 -1.8q0.2 1.8 1.5 1.8h1.5q1.5 0 1.6 1.7" fill="none" stroke="#ffa500" stroke-opacity="1" stroke-width="1.0"/>
<g transform="translate(161.6,348.2) rotate(90)" fill="#ffa500" fill-opacity="0.75"><text x="-9.3" y="0" font-size="9.9" text-anchor="end" textLength="14.8" lengthAdjust="spacingAndGlyphs">SiII</text></g>
<path d="M160.1 347.6q0.1 -1.7 1.6 -1.7h1.5q1.3 0 1.5 -1.8q0.2 1.8 1.5 1.8h1.5q1.5 0 1.6 1.7" fill="none" stroke="#ffa500" stroke-opacity="0.75" stroke-width="1.0"/>
<g transform="translate(201.1,348.2) rotate(90)" fill="#8a2be2" fill-opacity="0.8"><text x="-11.3" y="0" font-size="9.9" text-anchor="end" textLength="17.8" lengthAdjust="spacingAndGlyphs">Lyα</text></g>
<path d="M199.6 347.6q0.1 -1.7 1.6 -1.7h1.5q1.3 0 1.5 -1.8q0.2 1.8 1.5 1.8h1.5q1.5 0 1.6 1.7" fill="none" stroke="#8a2be2" stroke-opacity="0.8" stroke-width="1.0"/>
<g transform="translate(246.6,348.2) rotate(90)" fill="#8a2be2" fill-opacity="0.9"><text x="-15.6" y="0" font-size="9.9" text-anchor="end" textLength="14.2" lengthAdjust="spacingAndGlyphs">NV</text></g>
<path d="M245.1 347.6q0.1 -1.7 1.6 -1.7h1.5q1.3 0 1.5 -1.8q0.2 1.8 1.5 1.8h1.5q1.5 0 1.6 1.7" fill="none" stroke="#8a2be2" stroke-opacity="0.9" stroke-width="1.0"/>
<g transform="translate(276.6,348.2) rotate(90)" fill="#800080" fill-opacity="1"><text x="-12.5" y="0" font-size="9.9" text-anchor="end" textLength="16.6" lengthAdjust="spacingAndGlyphs">CIV</text></g>
<path d="M275.1 347.6q0.1 -1.7 1.6 -1.7h1.5q1.3 0 1.5 -1.8q0.2 1.8 1.5 1.8h1.5q1.5 0 1.6 1.7" fill="none" stroke="#800080" stroke-opacity="1" stroke-width="1.0"/>
<g transform="translate(287.1,348.2) rotate(90)" fill="#8a2be2" fill-opacity="0.7"><text x="-9.3" y="0" font-size="9.9" text-anchor="end" textLength="14.8" lengthAdjust="spacingAndGlyphs">SiII</text></g>
<path d="M285.6 347.6q0.1 -1.7 1.6 -1.7h1.5q1.3 0 1.5 -1.8q0.2 1.8 1.5 1.8h1.5q1.5 0 1.6 1.7" fill="none" stroke="#8a2be2" stroke-opacity="0.7" stroke-width="1.0"/>
<g transform="translate(327.9,348.2) rotate(90)" fill="#ff00ff" fill-opacity="0.9"><text x="-12.5" y="0" font-size="9.9" text-anchor="end" textLength="12.7" lengthAdjust="spacingAndGlyphs">CII</text></g>
<path d="M326.4 347.6q0.1 -1.7 1.6 -1.7h1.5q1.3 0 1.5 -1.8q0.2 1.8 1.5 1.8h1.5q1.5 0 1.6 1.7" fill="none" stroke="#ff00ff" stroke-opacity="0.9" stroke-width="1.0"/>
<g transform="translate(385.9,348.2) rotate(90)" fill="#ff0000" fill-opacity="1"><text x="-12.5" y="0" font-size="9.9" text-anchor="end" textLength="17.4" lengthAdjust="spacingAndGlyphs">OVI</text></g>
<path d="M384.4 347.6q0.1 -1.7 1.6 -1.7h1.5q1.3 0 1.5 -1.8q0.2 1.8 1.5 1.8h1.5q1.5 0 1.6 1.7" fill="none" stroke="#ff0000" stroke-opacity="1" stroke-width="1.0"/>
<g transform="translate(407.9,348.2) rotate(90)" fill="#800080" fill-opacity="1"><text x="-9.3" y="0" font-size="9.9" text-anchor="end" textLength="19.3" lengthAdjust="spacingAndGlyphs">HeII</text></g>
<path d="M406.4 347.6q0.1 -1.7 1.6 -1.7h1.5q1.3 0 1.5 -1.8q0.2 1.8 1.5 1.8h1.5q1.5 0 1.6 1.7" fill="none" stroke="#800080" stroke-opacity="1" stroke-width="1.0"/>
<g transform="translate(387.9,305.4) rotate(90)" fill="#ffa500" fill-opacity="0.85"><text x="-9.3" y="0" font-size="9.9" text-anchor="end" textLength="18.6" lengthAdjust="spacingAndGlyphs">SiIV</text></g>
<path d="M386.4 304.8q0.1 -1.7 1.6 -1.7h1.5q1.3 0 1.5 -1.8q0.2 1.8 1.5 1.8h1.5q1.5 0 1.6 1.7" fill="none" stroke="#ffa500" stroke-opacity="0.85" stroke-width="1.0"/>
<g transform="translate(407.4,305.4) rotate(90)" fill="#4169e1" fill-opacity="0.85"><text x="-12.5" y="0" font-size="9.9" text-anchor="end" textLength="13.6" lengthAdjust="spacingAndGlyphs">OII</text></g>
<path d="M405.9 304.8q0.1 -1.7 1.6 -1.7h1.5q1.3 0 1.5 -1.8q0.2 1.8 1.5 1.8h1.5q1.5 0 1.6 1.7" fill="none" stroke="#4169e1" stroke-opacity="0.85" stroke-width="1.0"/>
<g transform="translate(526.1,348.2) rotate(90)" fill="#8a2be2" fill-opacity="0.9"><text x="-9.3" y="0" font-size="9.9" text-anchor="end" textLength="18.6" lengthAdjust="spacingAndGlyphs">SiIV</text></g>
<path d="M524.6 347.6q0.1 -1.7 1.6 -1.7h1.5q1.3 0 1.5 -1.8q0.2 1.8 1.5 1.8h1.5q1.5 0 1.6 1.7" fill="none" stroke="#8a2be2" stroke-opacity="0.9" stroke-width="1.0"/>
<g transform="translate(628.6,348.2) rotate(90)" fill="#87ceeb" fill-opacity="0.75"><text x="-12.5" y="0" font-size="9.9" text-anchor="end" textLength="13.6" lengthAdjust="spacingAndGlyphs">OII</text></g>
<path d="M627.1 347.6q0.1 -1.7 1.6 -1.7h1.5q1.3 0 1.5 -1.8q0.2 1.8 1.5 1.8h1.5q1.5 0 1.6 1.7" fill="none" stroke="#87ceeb" stroke-opacity="0.75" stroke-width="1.0"/>
<g transform="translate(642.9,348.2) rotate(90)" fill="#ffa500" fill-opacity="0.95"><text x="-12.5" y="0" font-size="9.9" text-anchor="end" textLength="16.6" lengthAdjust="spacingAndGlyphs">CIV</text></g>
<path d="M641.4 347.6q0.1 -1.7 1.6 -1.7h1.5q1.3 0 1.5 -1.8q0.2 1.8 1.5 1.8h1.5q1.5 0 1.6 1.7" fill="none" stroke="#ffa500" stroke-opacity="0.95" stroke-width="1.0"/>
<g transform="translate(651.6,348.2) rotate(90)" fill="#87ceeb" fill-opacity="0.75"><text x="-12.5" y="0" font-size="9.9" text-anchor="end" textLength="13.6" lengthAdjust="spacingAndGlyphs">OII</text></g>
<path d="M650.1 347.6q0.1 -1.7 1.6 -1.7h1.5q1.3 0 1.5 -1.8q0.2 1.8 1.5 1.8h1.5q1.5 0 1.6 1.7" fill="none" stroke="#87ceeb" stroke-opacity="0.75" stroke-width="1.0"/>
<g transform="translate(703.1,348.2) rotate(90)" fill="#87ceeb" fill-opacity="0.8"><text x="-11.3" y="0" font-size="9.9" text-anchor="end" textLength="13.7" lengthAdjust="spacingAndGlyphs">Hη</text></g>
<path d="M701.6 347.6q0.1 -1.7 1.6 -1.7h1.5q1.3 0 1.5 -1.8q0.2 1.8 1.5 1.8h1.5q1.5 0 1.6 1.7" fill="none" stroke="#87ceeb" stroke-opacity="0.8" stroke-width="1.0"/>
<g transform="translate(852.9,348.2) rotate(90)" fill="#ff0000" fill-opacity="1"><text x="-15.6" y="0" font-size="9.9" text-anchor="end" textLength="14.2" lengthAdjust="spacingAndGlyphs">NV</text></g>
<path d="M851.4 347.6q0.1 -1.7 1.6 -1.7h1.5q1.3 0 1.5 -1.8q0.2 1.8 1.5 1.8h1.5q1.5 0 1.6 1.7" fill="none" stroke="#ff0000" stroke-opacity="1" stroke-width="1.0"/>
<g transform="translate(904.1,348.2) rotate(90)" fill="#ff0000" fill-opacity="0.9"><text x="-9.3" y="0" font-size="9.9" text-anchor="end" textLength="14.8" lengthAdjust="spacingAndGlyphs">SiII</text></g>
<path d="M902.6 347.6q0.1 -1.7 1.6 -1.7h1.5q1.3 0 1.5 -1.8q0.2 1.8 1.5 1.8h1.5q1.5 0 1.6 1.7" fill="none" stroke="#ff0000" stroke-opacity="0.9" stroke-width="1.0"/>
<g transform="translate(957.4,348.2) rotate(90)" fill="#8a2be2" fill-opacity="0.95"><text x="-9.3" y="0" font-size="9.9" text-anchor="end" textLength="19.3" lengthAdjust="spacingAndGlyphs">HeII</text></g>
<path d="M955.9 347.6q0.1 -1.7 1.6 -1.7h1.5q1.3 0 1.5 -1.8q0.2 1.8 1.5 1.8h1.5q1.5 0 1.6 1.7" fill="none" stroke="#8a2be2" stroke-opacity="0.95" stroke-width="1.0"/>
<g transform="translate(1054.1,348.2) rotate(90)" fill="#87ceeb" fill-opacity="0.75"><text x="-11.3" y="0" font-size="9.9" text-anchor="end" textLength="13.2" lengthAdjust="spacingAndGlyphs">Hγ</text></g>
<path d="M1052.6 347.6q0.1 -1.7 1.6 -1.7h1.5q1.3 0 1.5 -1.8q0.2 1.8 1.5 1.8h1.5q1.5 0 1.6 1.7" fill="none" stroke="#87ceeb" stroke-opacity="0.75" stroke-width="1.0"/>
<g transform="translate(1081.1,348.2) rotate(90)" fill="#87ceeb" fill-opacity="0.75"><text x="-11.3" y="0" font-size="9.9" text-anchor="end" textLength="13.2" lengthAdjust="spacingAndGlyphs">Hγ</text></g>
<path d="M1079.6 347.6q0.1 -1.7 1.6 -1.7h1.5q1.3 0 1.5 -1.8q0.2 1.8 1.5 1.8h1.5q1.5 0 1.6 1.7" fill="none" stroke="#87ceeb" stroke-opacity="0.75" stroke-width="1.0"/>
<g transform="translate(1126.6,348.2) rotate(90)" fill="#4169e1" fill-opacity="0.9"><text x="-11.3" y="0" font-size="9.9" text-anchor="end" textLength="13.7" lengthAdjust="spacingAndGlyphs">Hβ</text></g>
<path d="M1125.1 347.6q0.1 -1.7 1.6 -1.7h1.5q1.3 0 1.5 -1.8q0.2 1.8 1.5 1.8h1.5q1.5 0 1.6 1.7" fill="none" stroke="#4169e1" stroke-opacity="0.9" stroke-width="1.0"/>
<g transform="translate(1188.9,348.2) rotate(90)" fill="#4169e1" fill-opacity="0.9"><text x="-9.3" y="0" font-size="9.9" text-anchor="end" textLength="16.5" lengthAdjust="spacingAndGlyphs">OIII</text></g>
<path d="M1187.4 347.6q0.1 -1.7 1.6 -1.7h1.5q1.3 0 1.5 -1.8q0.2 1.8 1.5 1.8h1.5q1.5 0 1.6 1.7" fill="none" stroke="#4169e1" stroke-opacity="0.9" stroke-width="1.0"/>
<g transform="translate(1209.1,348.2) rotate(90)" fill="#ff0000" fill-opacity="1"><text x="-9.3" y="0" font-size="9.9" text-anchor="end" textLength="18.6" lengthAdjust="spacingAndGlyphs">SiIV</text></g>
<path d="M1207.6 347.6q0.1 -1.7 1.6 -1.7h1.5q1.3 0 1.5 -1.8q0.2 1.8 1.5 1.8h1.5q1.5 0 1.6 1.7" fill="none" stroke="#ff0000" stroke-opacity="1" stroke-width="1.0"/>
<g transform="translate(1219.5,348.2) rotate(90)" fill="#4169e1" fill-opacity="0.9"><text x="-9.3" y="0" font-size="9.9" text-anchor="end" textLength="16.5" lengthAdjust="spacingAndGlyphs">OIII</text></g>
<path d="M1218.0 347.6q0.1 -1.7 1.6 -1.7h1.5q1.3 0 1.5 -1.8q0.2 1.8 1.5 1.8h1.5q1.5 0 1.6 1.7" fill="none" stroke="#4169e1" stroke-opacity="0.9" stroke-width="1.0"/>
<g transform="translate(1248.7,348.2) rotate(90)" fill="#008000" fill-opacity="1"><text x="-11.3" y="0" font-size="9.9" text-anchor="end" textLength="13.2" lengthAdjust="spacingAndGlyphs">Hγ</text></g>
<path d="M1247.2 347.6q0.1 -1.7 1.6 -1.7h1.5q1.3 0 1.5 -1.8q0.2 1.8 1.5 1.8h1.5q1.5 0 1.6 1.7" fill="none" stroke="#008000" stroke-opacity="1" stroke-width="1.0"/>
<g transform="translate(1246.6,305.4) rotate(90)" fill="#ffa500" fill-opacity="0.8"><text x="-9.3" y="0" font-size="9.9" text-anchor="end" textLength="15.6" lengthAdjust="spacingAndGlyphs">CIII</text></g>
<path d="M1245.1 304.8q0.1 -1.7 1.6 -1.7h1.5q1.3 0 1.5 -1.8q0.2 1.8 1.5 1.8h1.5q1.5 0 1.6 1.7" fill="none" stroke="#ffa500" stroke-opacity="0.8" stroke-width="1.0"/>
<g clip-path="url(#pclipF)">
<g filter="url(#mzF)">
<rect x="67.1" y="529.7" width="154.3" height="153.9" fill="#e8e8e8"/>
<ellipse cx="94.1" cy="594.7" rx="36" ry="40" fill="url(#gHaze)"/>
<ellipse cx="103.1" cy="572.7" rx="17" ry="14" fill="url(#gHaze)" opacity="0.5"/>
<ellipse cx="83.7" cy="605.7" rx="30.1" ry="29.5" fill="url(#gBig)"/>
<ellipse cx="108.1" cy="607.2" rx="16" ry="13" fill="url(#gHaze)" opacity="0.9"/>
<ellipse cx="127.6" cy="608.0" rx="14.5" ry="21.0" fill="url(#gSm)"/>
</g>
<circle cx="122.4" cy="558.1" r="12.3" fill="none" stroke="#505050" stroke-opacity="0.75" stroke-width="0.8"/>
<circle cx="163.6" cy="560.4" r="12.3" fill="none" stroke="#505050" stroke-opacity="0.75" stroke-width="0.8"/>
<circle cx="100.5" cy="570.8" r="12.3" fill="none" stroke="#505050" stroke-opacity="0.75" stroke-width="0.8"/>
<circle cx="142.8" cy="573.1" r="12.3" fill="none" stroke="#505050" stroke-opacity="0.75" stroke-width="0.8"/>
<circle cx="185.0" cy="575.0" r="12.3" fill="none" stroke="#505050" stroke-opacity="0.75" stroke-width="0.8"/>
<circle cx="122.0" cy="584.0" r="12.3" fill="none" stroke="#505050" stroke-opacity="0.75" stroke-width="0.8"/>
<circle cx="163.6" cy="585.8" r="12.3" fill="none" stroke="#505050" stroke-opacity="0.75" stroke-width="0.8"/>
<circle cx="100.5" cy="595.1" r="12.3" fill="none" stroke="#505050" stroke-opacity="0.75" stroke-width="0.8"/>
<circle cx="184.3" cy="597.4" r="12.3" fill="none" stroke="#505050" stroke-opacity="0.75" stroke-width="0.8"/>
<circle cx="100.5" cy="619.3" r="12.3" fill="none" stroke="#505050" stroke-opacity="0.75" stroke-width="0.8"/>
<circle cx="183.6" cy="622.3" r="12.3" fill="none" stroke="#505050" stroke-opacity="0.75" stroke-width="0.8"/>
<circle cx="118.5" cy="632.0" r="12.3" fill="none" stroke="#505050" stroke-opacity="0.75" stroke-width="0.8"/>
<circle cx="161.7" cy="633.9" r="12.3" fill="none" stroke="#505050" stroke-opacity="0.75" stroke-width="0.8"/>
<circle cx="139.3" cy="644.7" r="12.3" fill="none" stroke="#505050" stroke-opacity="0.75" stroke-width="0.8"/>
<circle cx="180.9" cy="646.3" r="12.3" fill="none" stroke="#505050" stroke-opacity="0.75" stroke-width="0.8"/>
<circle cx="118.5" cy="656.7" r="12.3" fill="none" stroke="#505050" stroke-opacity="0.75" stroke-width="0.8"/>
<circle cx="161.2" cy="658.1" r="12.3" fill="none" stroke="#505050" stroke-opacity="0.75" stroke-width="0.8"/>
</g>
<circle cx="162.4" cy="610.1" r="12.4" fill="none" stroke="#ffa500" stroke-width="1.3"/>
<circle cx="120.8" cy="608.2" r="12.4" fill="none" stroke="#ff0000" stroke-width="1.3"/>
<circle cx="141.2" cy="620.5" r="12.4" fill="none" stroke="#00ff00" stroke-width="1.3"/>
<circle cx="142.1" cy="596.2" r="12.4" fill="none" stroke="#0000ff" stroke-width="1.3"/>
<rect x="95.0" y="557.6" width="98.2" height="98.2" fill="none" stroke="#ff0000" stroke-width="1.25"/>
<text x="144.10" y="546.30" font-size="10" text-anchor="middle" fill="#ff0000" textLength="7.40" lengthAdjust="spacingAndGlyphs"  xml:space="preserve">N</text>
<text x="80.50" y="610.40" font-size="10" text-anchor="middle" fill="#ff0000" textLength="6.30" lengthAdjust="spacingAndGlyphs"  xml:space="preserve">E</text>
<path d="M142.1 606.7H146.1M144.1 604.7V608.7" stroke="#ff0000" stroke-width="1"/>
<rect x="70.1" y="532.7" width="148.3" height="147.9" fill="none" stroke="#222" stroke-width="0.9"/>
<text x="62.50" y="675.78" font-size="10.2" text-anchor="end" fill="#111" textLength="14.00" lengthAdjust="spacingAndGlyphs"  xml:space="preserve">−4</text>
<text x="78.22" y="695.80" font-size="10.2" text-anchor="middle" fill="#111" textLength="14.00" lengthAdjust="spacingAndGlyphs"  xml:space="preserve">−4</text>
<text x="62.50" y="643.04" font-size="10.2" text-anchor="end" fill="#111" textLength="14.00" lengthAdjust="spacingAndGlyphs"  xml:space="preserve">−2</text>
<text x="110.96" y="695.80" font-size="10.2" text-anchor="middle" fill="#111" textLength="14.00" lengthAdjust="spacingAndGlyphs"  xml:space="preserve">−2</text>
<text x="62.50" y="610.30" font-size="10.2" text-anchor="end" fill="#111" textLength="6.30" lengthAdjust="spacingAndGlyphs"  xml:space="preserve">0</text>
<text x="144.10" y="695.80" font-size="10.2" text-anchor="middle" fill="#111" textLength="6.30" lengthAdjust="spacingAndGlyphs"  xml:space="preserve">0</text>
<text x="62.50" y="577.56" font-size="10.2" text-anchor="end" fill="#111" textLength="6.30" lengthAdjust="spacingAndGlyphs"  xml:space="preserve">2</text>
<text x="176.84" y="695.80" font-size="10.2" text-anchor="middle" fill="#111" textLength="6.30" lengthAdjust="spacingAndGlyphs"  xml:space="preserve">2</text>
<text x="62.50" y="544.82" font-size="10.2" text-anchor="end" fill="#111" textLength="6.30" lengthAdjust="spacingAndGlyphs"  xml:space="preserve">4</text>
<text x="209.58" y="695.80" font-size="10.2" text-anchor="middle" fill="#111" textLength="6.30" lengthAdjust="spacingAndGlyphs"  xml:space="preserve">4</text>
<path d="M66.6 672.18H70.1M78.62 680.6V684.1M66.6 639.44H70.1M111.36 680.6V684.1M66.6 606.70H70.1M144.10 680.6V684.1M66.6 573.96H70.1M176.84 680.6V684.1M66.6 541.22H70.1M209.58 680.6V684.1" stroke="#222" stroke-width="0.8" fill="none"/>
<text x="144.10" y="525.60" font-size="12.9" text-anchor="middle" fill="#111" textLength="92.50" lengthAdjust="spacingAndGlyphs"  xml:space="preserve">Fiber Positions</text>
<text x="144.10" y="706.70" font-size="10.3" text-anchor="middle" fill="#111" textLength="40.20" lengthAdjust="spacingAndGlyphs"  xml:space="preserve">arcsecs</text>
<g clip-path="url(#pclipL)">
<g filter="url(#mzL)">
<g filter="url(#viridis)">
<rect x="253.2" y="530.7" width="152.3" height="151.9" fill="#545454"/>
<g transform="translate(250,528) scale(0.16790)">
<g filter="url(#lfb)">
<polygon points="-60,-60 330,-60 300,160 -60,120" fill="#4c4c4c" />
<polygon points="300,-60 480,-60 520,380 420,400 330,150" fill="#858585" />
<polygon points="-60,310 120,340 330,400 300,540 150,520 -60,490" fill="#9e9e9e" />
<polygon points="-60,560 120,555 350,680 340,770 150,730 -60,660" fill="#858585" />
<polygon points="-60,700 60,690 250,760 250,830 60,790 -60,790" fill="#2e2e2e" />
<polygon points="-60,810 180,840 270,980 -60,980" fill="#787878" />
<polygon points="500,470 640,480 820,440 980,400 980,540 700,570 560,550" fill="#6b6b6b" />
<polygon points="520,160 640,160 640,480 520,470" fill="#666666" />
<polygon points="790,190 980,60 980,150 840,230" fill="#383838" />
<polygon points="220,320 540,310 560,540 400,560 240,520" fill="#bdbdbd" />
<polygon points="425,470 530,470 545,760 415,770" fill="#b2b2b2" />
<polygon points="560,-60 980,-60 980,200 880,190 840,150 790,180 700,180 620,120 560,60" fill="#000000" />
<polygon points="-60,110 100,165 290,260 345,330 300,385 200,365 120,345 -60,300" fill="#000000" />
<polygon points="380,760 500,755 560,810 640,820 670,980 350,980 350,825" fill="#000000" />
<polygon points="820,530 980,495 980,980 785,980 795,850 825,780 795,700 795,600" fill="#000000" />
<polygon points="860,215 980,215 980,350 860,335" fill="#000000" />
</g>
<g filter="url(#lfb3)">
<polygon points="245,535 300,530 400,578 362,660 300,650 230,590" fill="#000000" />
<polygon points="275,440 330,392 450,378 462,440 425,490 330,500" fill="#ffffff" />
<polygon points="-60,360 75,380 95,445 -60,445" fill="#ffffff" />
<ellipse cx="450" cy="690" rx="26" ry="34" fill="#d9d9d9"/>
<ellipse cx="212" cy="672" rx="34" ry="26" fill="#9e9e9e"/>
</g>
<g filter="url(#lfb2)">
<polygon points="690,285 760,285 760,300 785,330 785,440 745,475 680,475 655,440 640,425 640,340 665,310" fill="#000000" />
<polygon points="590,555 625,570 660,600 660,665 630,680 600,695 558,655 558,590" fill="#000000" />
<polygon points="505,745 570,690 660,690 670,600 775,560 775,760 805,800 735,895 640,850 600,810 560,820 510,770" fill="#363636" />
</g>
</g></g></g></g>
<rect x="280.1" y="557.6" width="98.2" height="98.2" fill="none" stroke="#ff0000" stroke-width="1.25"/>
<path d="M329.2 570.0V598.8M329.2 614.6V643.4M292.5 606.7H321.3M337.7 606.7H366.5" stroke="#ff0000" stroke-width="1.25" fill="none"/>
<text x="329.20" y="546.30" font-size="10" text-anchor="middle" fill="#ff0000" textLength="7.40" lengthAdjust="spacingAndGlyphs"  xml:space="preserve">N</text>
<text x="265.60" y="610.40" font-size="10" text-anchor="middle" fill="#ff0000" textLength="6.30" lengthAdjust="spacingAndGlyphs"  xml:space="preserve">E</text>
<rect x="255.2" y="532.7" width="148.3" height="147.9" fill="none" stroke="#222" stroke-width="0.9"/>
<text x="247.60" y="675.78" font-size="10.2" text-anchor="end" fill="#111" textLength="14.00" lengthAdjust="spacingAndGlyphs"  xml:space="preserve">−4</text>
<text x="263.32" y="695.80" font-size="10.2" text-anchor="middle" fill="#111" textLength="14.00" lengthAdjust="spacingAndGlyphs"  xml:space="preserve">−4</text>
<text x="247.60" y="643.04" font-size="10.2" text-anchor="end" fill="#111" textLength="14.00" lengthAdjust="spacingAndGlyphs"  xml:space="preserve">−2</text>
<text x="296.06" y="695.80" font-size="10.2" text-anchor="middle" fill="#111" textLength="14.00" lengthAdjust="spacingAndGlyphs"  xml:space="preserve">−2</text>
<text x="247.60" y="610.30" font-size="10.2" text-anchor="end" fill="#111" textLength="6.30" lengthAdjust="spacingAndGlyphs"  xml:space="preserve">0</text>
<text x="329.20" y="695.80" font-size="10.2" text-anchor="middle" fill="#111" textLength="6.30" lengthAdjust="spacingAndGlyphs"  xml:space="preserve">0</text>
<text x="247.60" y="577.56" font-size="10.2" text-anchor="end" fill="#111" textLength="6.30" lengthAdjust="spacingAndGlyphs"  xml:space="preserve">2</text>
<text x="361.94" y="695.80" font-size="10.2" text-anchor="middle" fill="#111" textLength="6.30" lengthAdjust="spacingAndGlyphs"  xml:space="preserve">2</text>
<text x="247.60" y="544.82" font-size="10.2" text-anchor="end" fill="#111" textLength="6.30" lengthAdjust="spacingAndGlyphs"  xml:space="preserve">4</text>
<text x="394.68" y="695.80" font-size="10.2" text-anchor="middle" fill="#111" textLength="6.30" lengthAdjust="spacingAndGlyphs"  xml:space="preserve">4</text>
<path d="M251.7 672.18H255.2M263.72 680.6V684.1M251.7 639.44H255.2M296.46 680.6V684.1M251.7 606.70H255.2M329.20 680.6V684.1M251.7 573.96H255.2M361.94 680.6V684.1M251.7 541.22H255.2M394.68 680.6V684.1" stroke="#222" stroke-width="0.8" fill="none"/>
<text x="329.20" y="525.60" font-size="12.9" text-anchor="middle" fill="#111" textLength="82.40" lengthAdjust="spacingAndGlyphs"  xml:space="preserve">Lineflux Map</text>
<text x="329.20" y="706.70" font-size="10.3" text-anchor="middle" fill="#111" textLength="100.70" lengthAdjust="spacingAndGlyphs"  xml:space="preserve">s/b: 2.01 +/- 0.079</text>
<g clip-path="url(#pclip2)">
<g filter="url(#mz2)">
<rect x="437.3" y="529.7" width="154.3" height="153.9" fill="#e8e8e8"/>
<ellipse cx="464.3" cy="594.7" rx="36" ry="40" fill="url(#gHaze)"/>
<ellipse cx="473.3" cy="572.7" rx="17" ry="14" fill="url(#gHaze)" opacity="0.5"/>
<ellipse cx="453.9" cy="605.7" rx="30.6" ry="30.0" fill="url(#gBig)"/>
<ellipse cx="478.3" cy="607.2" rx="16" ry="13" fill="url(#gHaze)" opacity="0.9"/>
<ellipse cx="498.9" cy="608.0" rx="14.5" ry="21.0" fill="url(#gSm)"/>
</g>
<ellipse cx="457.3" cy="598.7" rx="41" ry="44" fill="none" stroke="#fff" stroke-width="0.85" stroke-dasharray="3 1.3" opacity="0.95"/>
<ellipse cx="0" cy="0" rx="21" ry="32.5" transform="translate(498.4,607.6) rotate(18)" fill="none" stroke="#ffd200" stroke-width="1.4"/>
</g>
<rect x="465.2" y="557.6" width="98.2" height="98.2" fill="none" stroke="#ff0000" stroke-width="1.25"/>
<path d="M514.3 570.0V598.8M514.3 614.6V643.4M477.6 606.7H506.4M522.8 606.7H551.6" stroke="#ff0000" stroke-width="1.25" fill="none"/>
<text x="514.30" y="546.30" font-size="10" text-anchor="middle" fill="#ff0000" textLength="7.40" lengthAdjust="spacingAndGlyphs"  xml:space="preserve">N</text>
<text x="450.70" y="610.40" font-size="10" text-anchor="middle" fill="#ff0000" textLength="6.30" lengthAdjust="spacingAndGlyphs"  xml:space="preserve">E</text>
<rect x="440.3" y="532.7" width="148.3" height="147.9" fill="none" stroke="#222" stroke-width="0.9"/>
<text x="432.70" y="675.78" font-size="10.2" text-anchor="end" fill="#111" textLength="14.00" lengthAdjust="spacingAndGlyphs"  xml:space="preserve">−4</text>
<text x="448.42" y="695.80" font-size="10.2" text-anchor="middle" fill="#111" textLength="14.00" lengthAdjust="spacingAndGlyphs"  xml:space="preserve">−4</text>
<text x="432.70" y="643.04" font-size="10.2" text-anchor="end" fill="#111" textLength="14.00" lengthAdjust="spacingAndGlyphs"  xml:space="preserve">−2</text>
<text x="481.16" y="695.80" font-size="10.2" text-anchor="middle" fill="#111" textLength="14.00" lengthAdjust="spacingAndGlyphs"  xml:space="preserve">−2</text>
<text x="432.70" y="610.30" font-size="10.2" text-anchor="end" fill="#111" textLength="6.30" lengthAdjust="spacingAndGlyphs"  xml:space="preserve">0</text>
<text x="514.30" y="695.80" font-size="10.2" text-anchor="middle" fill="#111" textLength="6.30" lengthAdjust="spacingAndGlyphs"  xml:space="preserve">0</text>
<text x="432.70" y="577.56" font-size="10.2" text-anchor="end" fill="#111" textLength="6.30" lengthAdjust="spacingAndGlyphs"  xml:space="preserve">2</text>
<text x="547.04" y="695.80" font-size="10.2" text-anchor="middle" fill="#111" textLength="6.30" lengthAdjust="spacingAndGlyphs"  xml:space="preserve">2</text>
<text x="432.70" y="544.82" font-size="10.2" text-anchor="end" fill="#111" textLength="6.30" lengthAdjust="spacingAndGlyphs"  xml:space="preserve">4</text>
<text x="579.78" y="695.80" font-size="10.2" text-anchor="middle" fill="#111" textLength="6.30" lengthAdjust="spacingAndGlyphs"  xml:space="preserve">4</text>
<path d="M436.8 672.18H440.3M448.82 680.6V684.1M436.8 639.44H440.3M481.56 680.6V684.1M436.8 606.70H440.3M514.30 680.6V684.1M436.8 573.96H440.3M547.04 680.6V684.1M436.8 541.22H440.3M579.78 680.6V684.1" stroke="#222" stroke-width="0.8" fill="none"/>
<text x="514.30" y="525.60" font-size="12.9" text-anchor="middle" fill="#111" textLength="105.80" lengthAdjust="spacingAndGlyphs"  xml:space="preserve">HSC SSP(26.8) g</text>
<text x="514.30" y="706.70" font-size="10.3" text-anchor="middle" fill="#111" textLength="120.00" lengthAdjust="spacingAndGlyphs"  xml:space="preserve">m:20.2  re:1.6"  s:1.0"</text>
<text x="514.30" y="718.50" font-size="10.3" text-anchor="middle" fill="#111" textLength="106.00" lengthAdjust="spacingAndGlyphs"  xml:space="preserve">EWr: 1, PLAE: 0.025</text>
<g clip-path="url(#pclip3)">
<g filter="url(#mz3)">
<rect x="622.4" y="529.7" width="154.3" height="153.9" fill="#e6e6e6"/>
<ellipse cx="649.4" cy="594.7" rx="36" ry="40" fill="url(#gHaze)"/>
<ellipse cx="658.4" cy="572.7" rx="17" ry="14" fill="url(#gHaze)" opacity="0.5"/>
<ellipse cx="639.0" cy="605.7" rx="31.6" ry="31.0" fill="url(#gBig)"/>
<ellipse cx="663.4" cy="607.2" rx="16" ry="13" fill="url(#gHaze)" opacity="0.9"/>
<ellipse cx="684.0" cy="608.0" rx="15.0" ry="21.5" fill="url(#gSm)"/>
</g>
<ellipse cx="643.4" cy="598.7" rx="42" ry="45" fill="none" stroke="#fff" stroke-width="0.85" stroke-dasharray="3 1.3" opacity="0.95"/>
<ellipse cx="0" cy="0" rx="21" ry="35.5" transform="translate(683.4,606.2) rotate(25)" fill="none" stroke="#ffd200" stroke-width="1.4"/>
</g>
<rect x="650.3" y="557.6" width="98.2" height="98.2" fill="none" stroke="#ff0000" stroke-width="1.25"/>
<path d="M699.4 570.0V598.8M699.4 614.6V643.4M662.7 606.7H691.5M707.9 606.7H736.7" stroke="#ff0000" stroke-width="1.25" fill="none"/>
<text x="699.40" y="546.30" font-size="10" text-anchor="middle" fill="#ff0000" textLength="7.40" lengthAdjust="spacingAndGlyphs"  xml:space="preserve">N</text>
<text x="635.80" y="610.40" font-size="10" text-anchor="middle" fill="#ff0000" textLength="6.30" lengthAdjust="spacingAndGlyphs"  xml:space="preserve">E</text>
<rect x="625.4" y="532.7" width="148.3" height="147.9" fill="none" stroke="#222" stroke-width="0.9"/>
<text x="617.80" y="675.78" font-size="10.2" text-anchor="end" fill="#111" textLength="14.00" lengthAdjust="spacingAndGlyphs"  xml:space="preserve">−4</text>
<text x="633.52" y="695.80" font-size="10.2" text-anchor="middle" fill="#111" textLength="14.00" lengthAdjust="spacingAndGlyphs"  xml:space="preserve">−4</text>
<text x="617.80" y="643.04" font-size="10.2" text-anchor="end" fill="#111" textLength="14.00" lengthAdjust="spacingAndGlyphs"  xml:space="preserve">−2</text>
<text x="666.26" y="695.80" font-size="10.2" text-anchor="middle" fill="#111" textLength="14.00" lengthAdjust="spacingAndGlyphs"  xml:space="preserve">−2</text>
<text x="617.80" y="610.30" font-size="10.2" text-anchor="end" fill="#111" textLength="6.30" lengthAdjust="spacingAndGlyphs"  xml:space="preserve">0</text>
<text x="699.40" y="695.80" font-size="10.2" text-anchor="middle" fill="#111" textLength="6.30" lengthAdjust="spacingAndGlyphs"  xml:space="preserve">0</text>
<text x="617.80" y="577.56" font-size="10.2" text-anchor="end" fill="#111" textLength="6.30" lengthAdjust="spacingAndGlyphs"  xml:space="preserve">2</text>
<text x="732.14" y="695.80" font-size="10.2" text-anchor="middle" fill="#111" textLength="6.30" lengthAdjust="spacingAndGlyphs"  xml:space="preserve">2</text>
<text x="617.80" y="544.82" font-size="10.2" text-anchor="end" fill="#111" textLength="6.30" lengthAdjust="spacingAndGlyphs"  xml:space="preserve">4</text>
<text x="764.88" y="695.80" font-size="10.2" text-anchor="middle" fill="#111" textLength="6.30" lengthAdjust="spacingAndGlyphs"  xml:space="preserve">4</text>
<path d="M621.9 672.18H625.4M633.92 680.6V684.1M621.9 639.44H625.4M666.66 680.6V684.1M621.9 606.70H625.4M699.40 680.6V684.1M621.9 573.96H625.4M732.14 680.6V684.1M621.9 541.22H625.4M764.88 680.6V684.1" stroke="#222" stroke-width="0.8" fill="none"/>
<text x="699.40" y="525.60" font-size="12.9" text-anchor="middle" fill="#111" textLength="101.60" lengthAdjust="spacingAndGlyphs"  xml:space="preserve">HSC SSP(26.4) r</text>
<text x="699.40" y="706.70" font-size="10.3" text-anchor="middle" fill="#111" textLength="120.00" lengthAdjust="spacingAndGlyphs"  xml:space="preserve">m:19.7  re:1.7"  s:1.0"</text>
<text x="699.40" y="718.50" font-size="10.3" text-anchor="middle" fill="#111" textLength="106.00" lengthAdjust="spacingAndGlyphs"  xml:space="preserve">EWr: 1, PLAE: 0.024</text>
<g clip-path="url(#pclip4)">
<g filter="url(#mz4)">
<rect x="807.5" y="529.7" width="154.3" height="153.9" fill="#e7e7e7"/>
<ellipse cx="834.5" cy="594.7" rx="36" ry="40" fill="url(#gHaze)"/>
<ellipse cx="843.5" cy="572.7" rx="17" ry="14" fill="url(#gHaze)" opacity="0.5"/>
<ellipse cx="824.1" cy="605.7" rx="34.2" ry="33.5" fill="url(#gBig)"/>
<ellipse cx="848.5" cy="607.2" rx="16" ry="13" fill="url(#gHaze)" opacity="0.9"/>
<ellipse cx="869.1" cy="608.0" rx="16.0" ry="23.0" fill="url(#gSm)"/>
</g>
<ellipse cx="828.6" cy="597.2" rx="38" ry="40" fill="none" stroke="#fff" stroke-width="0.85" stroke-dasharray="3 1.3" opacity="0.95"/>
<ellipse cx="0" cy="0" rx="20" ry="33.5" transform="translate(869.4,606.4) rotate(14)" fill="none" stroke="#ffd200" stroke-width="1.4"/>
</g>
<rect x="835.4" y="557.6" width="98.2" height="98.2" fill="none" stroke="#ff0000" stroke-width="1.25"/>
<path d="M884.5 570.0V598.8M884.5 614.6V643.4M847.8 606.7H876.6M893.0 606.7H921.8" stroke="#ff0000" stroke-width="1.25" fill="none"/>
<text x="884.50" y="546.30" font-size="10" text-anchor="middle" fill="#ff0000" textLength="7.40" lengthAdjust="spacingAndGlyphs"  xml:space="preserve">N</text>
<text x="820.90" y="610.40" font-size="10" text-anchor="middle" fill="#ff0000" textLength="6.30" lengthAdjust="spacingAndGlyphs"  xml:space="preserve">E</text>
<rect x="810.5" y="532.7" width="148.3" height="147.9" fill="none" stroke="#222" stroke-width="0.9"/>
<text x="802.90" y="675.78" font-size="10.2" text-anchor="end" fill="#111" textLength="14.00" lengthAdjust="spacingAndGlyphs"  xml:space="preserve">−4</text>
<text x="818.62" y="695.80" font-size="10.2" text-anchor="middle" fill="#111" textLength="14.00" lengthAdjust="spacingAndGlyphs"  xml:space="preserve">−4</text>
<text x="802.90" y="643.04" font-size="10.2" text-anchor="end" fill="#111" textLength="14.00" lengthAdjust="spacingAndGlyphs"  xml:space="preserve">−2</text>
<text x="851.36" y="695.80" font-size="10.2" text-anchor="middle" fill="#111" textLength="14.00" lengthAdjust="spacingAndGlyphs"  xml:space="preserve">−2</text>
<text x="802.90" y="610.30" font-size="10.2" text-anchor="end" fill="#111" textLength="6.30" lengthAdjust="spacingAndGlyphs"  xml:space="preserve">0</text>
<text x="884.50" y="695.80" font-size="10.2" text-anchor="middle" fill="#111" textLength="6.30" lengthAdjust="spacingAndGlyphs"  xml:space="preserve">0</text>
<text x="802.90" y="577.56" font-size="10.2" text-anchor="end" fill="#111" textLength="6.30" lengthAdjust="spacingAndGlyphs"  xml:space="preserve">2</text>
<text x="917.24" y="695.80" font-size="10.2" text-anchor="middle" fill="#111" textLength="6.30" lengthAdjust="spacingAndGlyphs"  xml:space="preserve">2</text>
<text x="802.90" y="544.82" font-size="10.2" text-anchor="end" fill="#111" textLength="6.30" lengthAdjust="spacingAndGlyphs"  xml:space="preserve">4</text>
<text x="949.98" y="695.80" font-size="10.2" text-anchor="middle" fill="#111" textLength="6.30" lengthAdjust="spacingAndGlyphs"  xml:space="preserve">4</text>
<path d="M807.0 672.18H810.5M819.02 680.6V684.1M807.0 639.44H810.5M851.76 680.6V684.1M807.0 606.70H810.5M884.50 680.6V684.1M807.0 573.96H810.5M917.24 680.6V684.1M807.0 541.22H810.5M949.98 680.6V684.1" stroke="#222" stroke-width="0.8" fill="none"/>
<text x="884.50" y="525.60" font-size="12.9" text-anchor="middle" fill="#111" textLength="100.50" lengthAdjust="spacingAndGlyphs"  xml:space="preserve">HSC SSP(26.4) i</text>
<text x="884.50" y="706.70" font-size="10.3" text-anchor="middle" fill="#111" textLength="120.00" lengthAdjust="spacingAndGlyphs"  xml:space="preserve">m:19.6  re:1.6"  s:1.0"</text>
<g clip-path="url(#pclip5)">
<g filter="url(#mz5)">
<rect x="992.6" y="529.7" width="154.3" height="153.9" fill="#dcdcdc"/>
<ellipse cx="1019.6" cy="594.7" rx="36" ry="40" fill="url(#gHaze)"/>
<ellipse cx="1028.6" cy="572.7" rx="17" ry="14" fill="url(#gHaze)" opacity="0.5"/>
<ellipse cx="1009.2" cy="605.7" rx="33.1" ry="32.5" fill="url(#gBig)"/>
<ellipse cx="1033.6" cy="607.2" rx="16" ry="13" fill="url(#gHaze)" opacity="0.9"/>
<ellipse cx="1054.2" cy="608.0" rx="15.5" ry="22.0" fill="url(#gSm)"/>
</g>
<ellipse cx="1014.9" cy="598.4" rx="36" ry="38" fill="none" stroke="#fff" stroke-width="0.85" stroke-dasharray="3 1.3" opacity="0.95"/>
<ellipse cx="0" cy="0" rx="18.5" ry="31.8" transform="translate(1054.5,606.2) rotate(17)" fill="none" stroke="#ffd200" stroke-width="1.4"/>
</g>
<rect x="1020.5" y="557.6" width="98.2" height="98.2" fill="none" stroke="#ff0000" stroke-width="1.25"/>
<path d="M1069.6 570.0V598.8M1069.6 614.6V643.4M1032.9 606.7H1061.7M1078.1 606.7H1106.9" stroke="#ff0000" stroke-width="1.25" fill="none"/>
<text x="1069.60" y="546.30" font-size="10" text-anchor="middle" fill="#ff0000" textLength="7.40" lengthAdjust="spacingAndGlyphs"  xml:space="preserve">N</text>
<text x="1006.00" y="610.40" font-size="10" text-anchor="middle" fill="#ff0000" textLength="6.30" lengthAdjust="spacingAndGlyphs"  xml:space="preserve">E</text>
<rect x="995.6" y="532.7" width="148.3" height="147.9" fill="none" stroke="#222" stroke-width="0.9"/>
<text x="988.00" y="675.78" font-size="10.2" text-anchor="end" fill="#111" textLength="14.00" lengthAdjust="spacingAndGlyphs"  xml:space="preserve">−4</text>
<text x="1003.72" y="695.80" font-size="10.2" text-anchor="middle" fill="#111" textLength="14.00" lengthAdjust="spacingAndGlyphs"  xml:space="preserve">−4</text>
<text x="988.00" y="643.04" font-size="10.2" text-anchor="end" fill="#111" textLength="14.00" lengthAdjust="spacingAndGlyphs"  xml:space="preserve">−2</text>
<text x="1036.46" y="695.80" font-size="10.2" text-anchor="middle" fill="#111" textLength="14.00" lengthAdjust="spacingAndGlyphs"  xml:space="preserve">−2</text>
<text x="988.00" y="610.30" font-size="10.2" text-anchor="end" fill="#111" textLength="6.30" lengthAdjust="spacingAndGlyphs"  xml:space="preserve">0</text>
<text x="1069.60" y="695.80" font-size="10.2" text-anchor="middle" fill="#111" textLength="6.30" lengthAdjust="spacingAndGlyphs"  xml:space="preserve">0</text>
<text x="988.00" y="577.56" font-size="10.2" text-anchor="end" fill="#111" textLength="6.30" lengthAdjust="spacingAndGlyphs"  xml:space="preserve">2</text>
<text x="1102.34" y="695.80" font-size="10.2" text-anchor="middle" fill="#111" textLength="6.30" lengthAdjust="spacingAndGlyphs"  xml:space="preserve">2</text>
<text x="988.00" y="544.82" font-size="10.2" text-anchor="end" fill="#111" textLength="6.30" lengthAdjust="spacingAndGlyphs"  xml:space="preserve">4</text>
<text x="1135.08" y="695.80" font-size="10.2" text-anchor="middle" fill="#111" textLength="6.30" lengthAdjust="spacingAndGlyphs"  xml:space="preserve">4</text>
<path d="M992.1 672.18H995.6M1004.12 680.6V684.1M992.1 639.44H995.6M1036.86 680.6V684.1M992.1 606.70H995.6M1069.60 680.6V684.1M992.1 573.96H995.6M1102.34 680.6V684.1M992.1 541.22H995.6M1135.08 680.6V684.1" stroke="#222" stroke-width="0.8" fill="none"/>
<text x="1069.60" y="525.60" font-size="12.9" text-anchor="middle" fill="#111" textLength="104.60" lengthAdjust="spacingAndGlyphs"  xml:space="preserve">HSC SSP(25.5) z</text>
<text x="1069.60" y="706.70" font-size="10.3" text-anchor="middle" fill="#111" textLength="120.00" lengthAdjust="spacingAndGlyphs"  xml:space="preserve">m:19.6  re:1.5"  s:1.0"</text>
<g clip-path="url(#pclip6)">
<g filter="url(#mz6)">
<rect x="1177.7" y="529.7" width="154.3" height="153.9" fill="#c9c9c9"/>
<ellipse cx="1204.7" cy="594.7" rx="36" ry="40" fill="url(#gHaze)"/>
<ellipse cx="1213.7" cy="572.7" rx="17" ry="14" fill="url(#gHaze)" opacity="0.5"/>
<ellipse cx="1194.3" cy="605.7" rx="31.6" ry="31.0" fill="url(#gBig)"/>
<ellipse cx="1218.7" cy="607.2" rx="16" ry="13" fill="url(#gHaze)" opacity="0.9"/>
<ellipse cx="1239.3" cy="608.0" rx="14.5" ry="20.0" fill="url(#gSm)"/>
</g>
<ellipse cx="1208.0" cy="601.9" rx="25.4" ry="37" fill="none" stroke="#fff" stroke-width="0.85" stroke-dasharray="3 1.3" opacity="0.95"/>
<ellipse cx="0" cy="0" rx="18.4" ry="26.6" transform="translate(1240.2,605.5) rotate(10)" fill="none" stroke="#ffd200" stroke-width="1.4"/>
</g>
<rect x="1205.6" y="557.6" width="98.2" height="98.2" fill="none" stroke="#ff0000" stroke-width="1.25"/>
<path d="M1254.7 570.0V598.8M1254.7 614.6V643.4M1218.0 606.7H1246.8M1263.2 606.7H1292.0" stroke="#ff0000" stroke-width="1.25" fill="none"/>
<text x="1254.70" y="546.30" font-size="10" text-anchor="middle" fill="#ff0000" textLength="7.40" lengthAdjust="spacingAndGlyphs"  xml:space="preserve">N</text>
<text x="1191.10" y="610.40" font-size="10" text-anchor="middle" fill="#ff0000" textLength="6.30" lengthAdjust="spacingAndGlyphs"  xml:space="preserve">E</text>
<rect x="1180.7" y="532.7" width="148.3" height="147.9" fill="none" stroke="#222" stroke-width="0.9"/>
<text x="1173.10" y="675.78" font-size="10.2" text-anchor="end" fill="#111" textLength="14.00" lengthAdjust="spacingAndGlyphs"  xml:space="preserve">−4</text>
<text x="1188.82" y="695.80" font-size="10.2" text-anchor="middle" fill="#111" textLength="14.00" lengthAdjust="spacingAndGlyphs"  xml:space="preserve">−4</text>
<text x="1173.10" y="643.04" font-size="10.2" text-anchor="end" fill="#111" textLength="14.00" lengthAdjust="spacingAndGlyphs"  xml:space="preserve">−2</text>
<text x="1221.56" y="695.80" font-size="10.2" text-anchor="middle" fill="#111" textLength="14.00" lengthAdjust="spacingAndGlyphs"  xml:space="preserve">−2</text>
<text x="1173.10" y="610.30" font-size="10.2" text-anchor="end" fill="#111" textLength="6.30" lengthAdjust="spacingAndGlyphs"  xml:space="preserve">0</text>
<text x="1254.70" y="695.80" font-size="10.2" text-anchor="middle" fill="#111" textLength="6.30" lengthAdjust="spacingAndGlyphs"  xml:space="preserve">0</text>
<text x="1173.10" y="577.56" font-size="10.2" text-anchor="end" fill="#111" textLength="6.30" lengthAdjust="spacingAndGlyphs"  xml:space="preserve">2</text>
<text x="1287.44" y="695.80" font-size="10.2" text-anchor="middle" fill="#111" textLength="6.30" lengthAdjust="spacingAndGlyphs"  xml:space="preserve">2</text>
<text x="1173.10" y="544.82" font-size="10.2" text-anchor="end" fill="#111" textLength="6.30" lengthAdjust="spacingAndGlyphs"  xml:space="preserve">4</text>
<text x="1320.18" y="695.80" font-size="10.2" text-anchor="middle" fill="#111" textLength="6.30" lengthAdjust="spacingAndGlyphs"  xml:space="preserve">4</text>
<path d="M1177.2 672.18H1180.7M1189.22 680.6V684.1M1177.2 639.44H1180.7M1221.96 680.6V684.1M1177.2 606.70H1180.7M1254.70 680.6V684.1M1177.2 573.96H1180.7M1287.44 680.6V684.1M1177.2 541.22H1180.7M1320.18 680.6V684.1" stroke="#222" stroke-width="0.8" fill="none"/>
<text x="1254.70" y="525.60" font-size="12.9" text-anchor="middle" fill="#111" textLength="105.00" lengthAdjust="spacingAndGlyphs"  xml:space="preserve">HSC SSP(24.7) y</text>
<text x="1254.70" y="706.70" font-size="10.3" text-anchor="middle" fill="#111" textLength="120.00" lengthAdjust="spacingAndGlyphs"  xml:space="preserve">m:19.6  re:1.3"  s:1.0"</text>
<!--BODY-->
</svg></body></html>
